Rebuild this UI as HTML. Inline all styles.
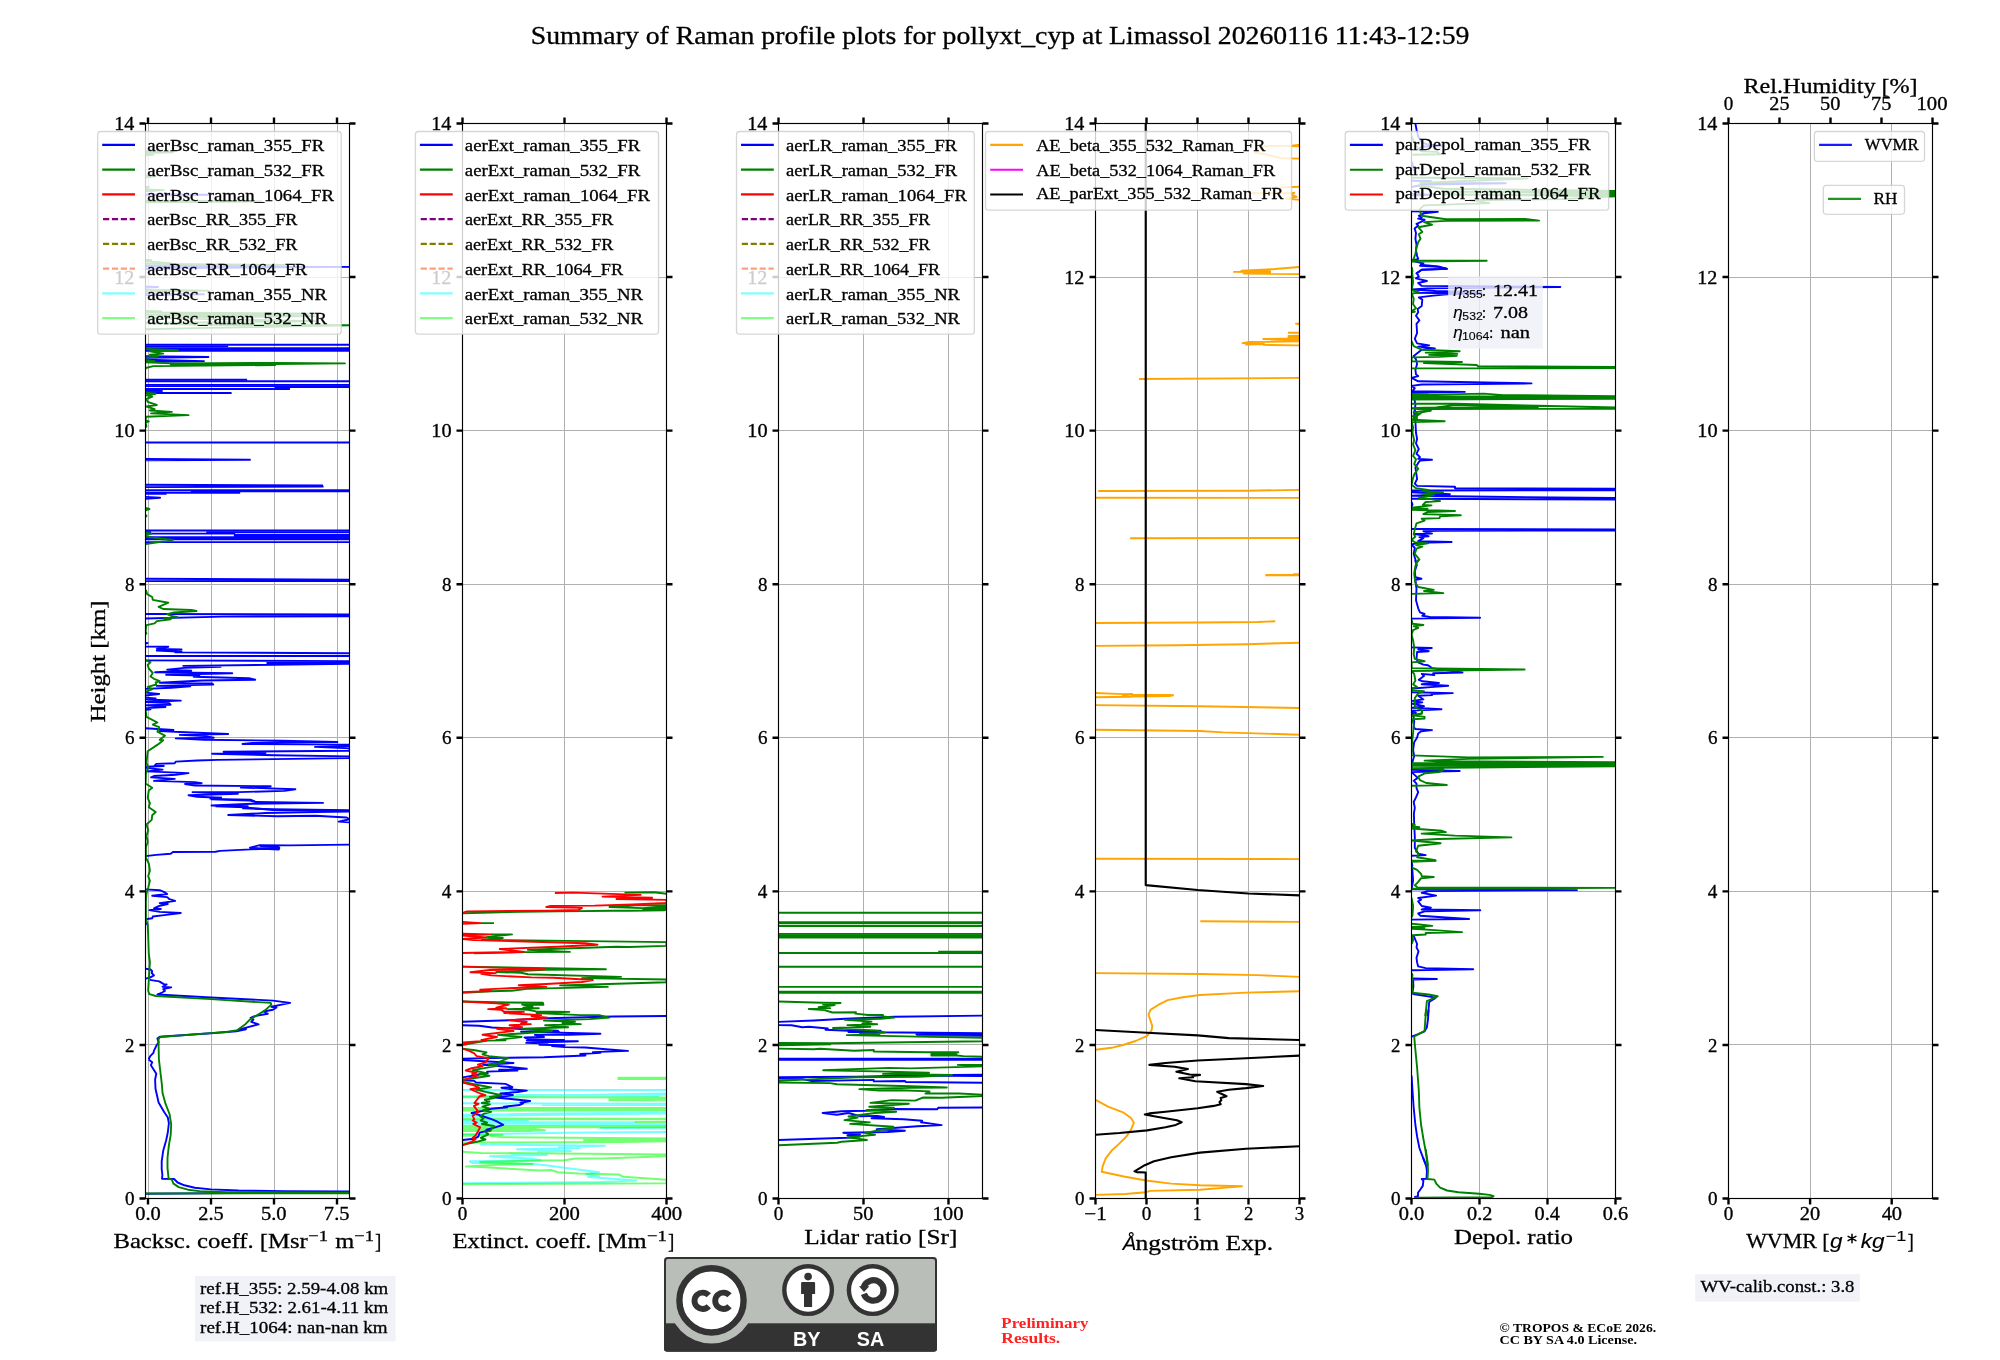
<!DOCTYPE html>
<html><head><meta charset="utf-8"><title>Raman profile summary</title>
<style>html,body{margin:0;padding:0;background:#fff}svg{display:block;will-change:transform}text{white-space:pre}</style></head><body>
<svg width="2000" height="1360" viewBox="0 0 2000 1360">
<rect x="0" y="0" width="2000" height="1360" fill="#fff"/>
<defs>
<clipPath id="c0"><rect x="145.50" y="123.50" width="204.00" height="1075.00"/></clipPath>
<clipPath id="c1"><rect x="462.50" y="123.50" width="204.00" height="1075.00"/></clipPath>
<clipPath id="c2"><rect x="778.50" y="123.50" width="204.00" height="1075.00"/></clipPath>
<clipPath id="c3"><rect x="1095.50" y="123.50" width="204.00" height="1075.00"/></clipPath>
<clipPath id="c4"><rect x="1411.50" y="123.50" width="204.00" height="1075.00"/></clipPath>
<clipPath id="c5"><rect x="1728.50" y="123.50" width="204.00" height="1075.00"/></clipPath>
</defs>
<text x="530.80" y="43.80" font-family="Liberation Serif, serif" font-size="24.44" fill="#000" stroke="#000" stroke-width="0.3" textLength="938.69" lengthAdjust="spacingAndGlyphs">Summary of Raman profile plots for pollyxt_cyp at Limassol 20260116 11:43-12:59</text>
<g id="panel1">
<path d="M148.50 123.50V1198.50M211.50 123.50V1198.50M274.50 123.50V1198.50M337.50 123.50V1198.50M145.50 1198.50H349.50M145.50 1044.50H349.50M145.50 891.50H349.50M145.50 737.50H349.50M145.50 584.50H349.50M145.50 430.50H349.50M145.50 277.50H349.50M145.50 123.50H349.50" stroke="#b0b0b0" stroke-width="1" fill="none" shape-rendering="crispEdges"/>
<g clip-path="url(#c0)">
<polyline points="145.6,151.3 172.9,152.2 145.6,153.1 153.4,154.6 145.6,155.4" fill="none" stroke="#008000" stroke-width="1.9" stroke-linejoin="round"/>
<polyline points="145.6,175.7 155.7,176.3 145.6,177.2" fill="none" stroke="#008000" stroke-width="1.9" stroke-linejoin="round"/>
<polyline points="145.6,186.9 148.8,187.3 145.6,188.0" fill="none" stroke="#008000" stroke-width="1.9" stroke-linejoin="round"/>
<polyline points="145.6,189.5 163.8,190.1 145.6,191.2" fill="none" stroke="#008000" stroke-width="1.9" stroke-linejoin="round"/>
<polyline points="145.6,194.5 208.6,194.7 145.6,195.4" fill="none" stroke="#0000ff" stroke-width="1.9" stroke-linejoin="round"/>
<polyline points="145.6,200.7 261.5,201.4 145.6,202.3" fill="none" stroke="#008000" stroke-width="1.9" stroke-linejoin="round"/>
<polyline points="145.6,259.7 151.1,260.2 145.6,261.4 169.5,263.1 145.6,263.9 284.5,264.9 145.6,265.8" fill="none" stroke="#008000" stroke-width="1.9" stroke-linejoin="round"/>
<polyline points="145.6,266.2 208.6,266.7 349.5,266.9 208.6,267.7 145.6,269.0" fill="none" stroke="#0000ff" stroke-width="1.9" stroke-linejoin="round"/>
<polyline points="145.6,286.7 158.0,287.0 145.6,287.5" fill="none" stroke="#0000ff" stroke-width="1.9" stroke-linejoin="round"/>
<polyline points="145.6,289.9 208.6,290.6 145.6,291.5" fill="none" stroke="#008000" stroke-width="1.9" stroke-linejoin="round"/>
<polyline points="145.6,293.6 204.0,294.3 145.6,295.0" fill="none" stroke="#0000ff" stroke-width="1.9" stroke-linejoin="round"/>
<polyline points="145.6,310.9 161.4,311.5 145.6,312.5 314.4,313.7 145.6,314.9 314.4,316.1 145.6,317.8 315.6,321.2 145.6,323.0 199.4,324.9 349.5,325.3 195.9,328.1 145.6,329.2" fill="none" stroke="#008000" stroke-width="1.9" stroke-linejoin="round"/>
<polyline points="145.6,344.8 349.5,344.8" fill="none" stroke="#0000ff" stroke-width="1.9" stroke-linejoin="round"/>
<polyline points="145.6,346.4 228.2,346.4" fill="none" stroke="#0000ff" stroke-width="1.9" stroke-linejoin="round"/>
<polyline points="145.6,348.3 349.5,348.3" fill="none" stroke="#0000ff" stroke-width="1.9" stroke-linejoin="round"/>
<polyline points="145.6,349.7 349.5,349.7" fill="none" stroke="#0000ff" stroke-width="1.9" stroke-linejoin="round"/>
<polyline points="145.6,350.9 349.5,350.9" fill="none" stroke="#0000ff" stroke-width="1.9" stroke-linejoin="round"/>
<polyline points="145.6,356.2 208.4,357.0 145.6,357.8" fill="none" stroke="#0000ff" stroke-width="1.9" stroke-linejoin="round"/>
<polyline points="145.6,359.7 204.0,361.1 145.6,362.0" fill="none" stroke="#0000ff" stroke-width="1.9" stroke-linejoin="round"/>
<polyline points="145.6,349.0 177.8,350.1 149.9,351.3 163.2,353.6 149.9,354.7 158.0,356.2 145.6,357.6" fill="none" stroke="#008000" stroke-width="1.9" stroke-linejoin="round"/>
<polyline points="145.6,360.1 154.6,361.3 145.6,362.2 170.7,363.4 275.3,362.9 344.9,363.4 275.3,364.0 170.7,364.3 275.3,365.0 153.4,366.1 146.5,367.7 145.6,368.5" fill="none" stroke="#008000" stroke-width="1.9" stroke-linejoin="round"/>
<polyline points="145.6,379.8 247.1,379.8" fill="none" stroke="#0000ff" stroke-width="1.9" stroke-linejoin="round"/>
<polyline points="145.6,381.3 349.5,381.3" fill="none" stroke="#0000ff" stroke-width="1.9" stroke-linejoin="round"/>
<polyline points="145.6,384.9 349.5,384.9" fill="none" stroke="#0000ff" stroke-width="1.9" stroke-linejoin="round"/>
<polyline points="145.6,386.1 349.5,386.1" fill="none" stroke="#0000ff" stroke-width="1.9" stroke-linejoin="round"/>
<polyline points="274.7,387.0 349.5,387.0" fill="none" stroke="#0000ff" stroke-width="1.9" stroke-linejoin="round"/>
<polyline points="145.6,389.0 290.0,389.0" fill="none" stroke="#0000ff" stroke-width="1.9" stroke-linejoin="round"/>
<polyline points="145.6,390.7 162.6,390.7" fill="none" stroke="#0000ff" stroke-width="1.9" stroke-linejoin="round"/>
<polyline points="145.6,392.1 162.6,392.1" fill="none" stroke="#0000ff" stroke-width="1.9" stroke-linejoin="round"/>
<polyline points="145.6,393.0 231.6,393.0" fill="none" stroke="#0000ff" stroke-width="1.9" stroke-linejoin="round"/>
<polyline points="145.6,392.7 155.7,393.8 146.5,395.3 152.2,396.7 146.5,399.0 147.7,401.9 156.8,405.0 146.5,406.5 154.6,409.1 149.9,410.5 171.8,411.9 151.1,413.4 188.5,415.1 145.9,416.8 145.6,420.3 148.8,421.4 145.6,422.6 146.5,426.4 145.6,427.2" fill="none" stroke="#008000" stroke-width="1.9" stroke-linejoin="round"/>
<polyline points="145.6,442.5 349.5,442.5" fill="none" stroke="#0000ff" stroke-width="1.9" stroke-linejoin="round"/>
<polyline points="145.6,459.0 250.0,459.7 145.6,460.4" fill="none" stroke="#0000ff" stroke-width="1.9" stroke-linejoin="round"/>
<polyline points="145.6,484.8 323.0,485.5" fill="none" stroke="#0000ff" stroke-width="1.9" stroke-linejoin="round"/>
<polyline points="323.6,486.6 145.6,487.1" fill="none" stroke="#0000ff" stroke-width="1.9" stroke-linejoin="round"/>
<polyline points="145.6,490.3 349.5,490.3" fill="none" stroke="#0000ff" stroke-width="1.9" stroke-linejoin="round"/>
<polyline points="190.8,491.4 349.5,491.4" fill="none" stroke="#0000ff" stroke-width="1.9" stroke-linejoin="round"/>
<polyline points="145.6,492.8 240.2,492.8" fill="none" stroke="#0000ff" stroke-width="1.9" stroke-linejoin="round"/>
<polyline points="145.6,493.8 166.6,493.8" fill="none" stroke="#0000ff" stroke-width="1.9" stroke-linejoin="round"/>
<polyline points="145.6,496.9 160.1,497.8 145.6,498.9" fill="none" stroke="#0000ff" stroke-width="1.9" stroke-linejoin="round"/>
<polyline points="145.6,507.9 149.4,509.0 145.6,510.4" fill="none" stroke="#008000" stroke-width="1.9" stroke-linejoin="round"/>
<polyline points="145.6,514.8 146.5,515.9 145.6,517.0" fill="none" stroke="#008000" stroke-width="1.9" stroke-linejoin="round"/>
<polyline points="145.6,530.5 349.5,530.5" fill="none" stroke="#0000ff" stroke-width="1.9" stroke-linejoin="round"/>
<polyline points="206.3,532.1 349.5,532.1" fill="none" stroke="#0000ff" stroke-width="1.9" stroke-linejoin="round"/>
<polyline points="145.6,532.1 151.1,532.1" fill="none" stroke="#0000ff" stroke-width="1.9" stroke-linejoin="round"/>
<polyline points="145.6,533.6 235.1,533.6" fill="none" stroke="#0000ff" stroke-width="1.9" stroke-linejoin="round"/>
<polyline points="233.9,534.8 349.5,534.8" fill="none" stroke="#0000ff" stroke-width="1.9" stroke-linejoin="round"/>
<polyline points="233.9,536.0 349.5,536.0" fill="none" stroke="#0000ff" stroke-width="1.9" stroke-linejoin="round"/>
<polyline points="145.6,537.3 349.5,537.3" fill="none" stroke="#0000ff" stroke-width="1.9" stroke-linejoin="round"/>
<polyline points="145.6,538.6 349.5,538.6" fill="none" stroke="#0000ff" stroke-width="1.9" stroke-linejoin="round"/>
<polyline points="145.6,539.4 349.5,539.4" fill="none" stroke="#0000ff" stroke-width="1.9" stroke-linejoin="round"/>
<polyline points="145.6,542.1 349.5,542.1" fill="none" stroke="#0000ff" stroke-width="1.9" stroke-linejoin="round"/>
<polyline points="145.6,532.6 151.1,533.7 146.5,535.2 145.6,536.6 172.9,540.0 145.6,544.1" fill="none" stroke="#008000" stroke-width="1.9" stroke-linejoin="round"/>
<polyline points="145.6,578.7 349.5,579.7" fill="none" stroke="#0000ff" stroke-width="1.9" stroke-linejoin="round"/>
<polyline points="145.6,581.1 349.5,581.0" fill="none" stroke="#0000ff" stroke-width="1.9" stroke-linejoin="round"/>
<polyline points="145.6,614.0 349.5,614.5 349.5,616.2 222.4,616.6 145.6,618.5" fill="none" stroke="#0000ff" stroke-width="1.9" stroke-linejoin="round"/>
<polyline points="145.9,590.1 147.1,594.1 152.2,597.0 152.8,599.9 168.3,602.7 158.6,606.8 163.2,609.0 191.3,610.0 196.5,611.0 174.1,612.5 167.2,614.2 171.2,616.0 177.6,617.1 163.8,618.5 170.7,619.4 156.8,621.1 154.6,623.4 146.5,625.1 145.9,627.5 145.6,632.0 146.5,633.2 145.6,634.4" fill="none" stroke="#008000" stroke-width="1.9" stroke-linejoin="round"/>
<polyline points="145.6,642.6 147.7,643.1 145.6,643.7" fill="none" stroke="#0000ff" stroke-width="1.9" stroke-linejoin="round"/>
<polyline points="145.6,646.6 168.3,646.8 156.8,648.9 181.6,649.5 156.8,650.6 181.6,651.8 175.2,652.4 349.5,653.2" fill="none" stroke="#0000ff" stroke-width="1.9" stroke-linejoin="round"/>
<polyline points="145.6,656.0 349.5,656.0" fill="none" stroke="#0000ff" stroke-width="1.9" stroke-linejoin="round"/>
<polyline points="145.6,660.4 349.5,661.1 349.5,662.2 267.2,663.0 349.5,663.9 183.3,665.9 220.7,666.7 184.4,667.9 167.2,669.6 191.3,670.8 155.1,672.2 232.2,673.3 166.1,674.8 199.4,675.6 193.7,676.7 248.9,678.2 255.2,679.7 202.3,680.5 159.7,682.8 212.1,683.4 213.2,684.5 156.8,685.9 190.2,686.3 171.2,687.8 145.6,688.9" fill="none" stroke="#0000ff" stroke-width="1.9" stroke-linejoin="round"/>
<polyline points="145.6,692.6 159.2,694.0 145.6,695.5" fill="none" stroke="#0000ff" stroke-width="1.9" stroke-linejoin="round"/>
<polyline points="145.6,697.8 155.7,698.4 146.5,699.5 180.8,700.6 146.5,702.0 168.9,703.0 170.7,704.7 146.5,705.2 165.5,707.0 146.5,708.1 150.5,709.3 145.6,709.9" fill="none" stroke="#0000ff" stroke-width="1.9" stroke-linejoin="round"/>
<polyline points="145.6,728.2 173.5,730.0 159.7,731.1 185.6,732.3 228.2,734.0 179.8,734.9 205.2,736.1 213.8,737.7 175.8,738.4 204.0,739.8 282.2,740.7 337.4,742.0 252.3,743.0 242.5,744.0 349.5,744.6 349.5,746.1 315.0,746.9 349.5,748.4 349.5,750.7 223.6,751.8 265.5,753.0 212.1,753.8 275.3,755.3 349.5,756.4 349.5,758.1 217.8,759.9 197.1,760.5 175.8,761.6 174.7,763.3 156.3,763.9 154.6,765.6 163.8,766.0 146.5,766.8 145.6,767.9 162.6,769.6 146.5,771.4 188.5,773.1 175.8,774.8 154.0,776.0 151.1,777.4 174.7,778.9 154.0,780.9 194.8,782.1 201.7,783.2 185.0,784.0 194.8,785.5 270.7,786.3 240.8,787.5 295.4,789.2 284.5,790.9 238.5,792.1 192.5,792.1 237.9,793.8 188.5,795.2 197.1,796.7 221.8,797.8" fill="none" stroke="#0000ff" stroke-width="1.9" stroke-linejoin="round"/>
<polyline points="145.6,660.4 150.5,662.1 147.7,665.0 148.8,668.5 152.8,673.0 150.5,676.5 154.0,678.8 159.7,681.1 155.7,682.5 156.3,684.5 147.7,686.9 152.2,689.1 146.5,691.5 145.6,692.6" fill="none" stroke="#008000" stroke-width="1.9" stroke-linejoin="round"/>
<polyline points="145.6,709.9 146.5,716.8 157.4,722.5 152.8,724.6 159.2,727.1 157.4,731.7 164.9,735.7 159.7,739.8 163.2,740.3 158.0,744.4 147.7,751.2 147.1,757.0 146.5,762.8 148.2,767.4 145.9,773.1 145.6,783.5 152.2,787.8 148.8,790.4 147.7,798.1" fill="none" stroke="#008000" stroke-width="1.9" stroke-linejoin="round"/>
<polyline points="221.8,797.8 210.3,798.6 223.6,799.1 250.6,799.7 255.8,802.0 323.0,802.9 252.3,803.8 211.5,805.5 247.7,806.3 243.1,808.4 273.0,809.3 349.5,810.1 349.5,811.6 315.0,812.0 266.1,813.0 228.2,815.0 277.6,816.2 315.6,815.8 346.6,817.5 349.5,819.3 338.6,821.6 349.5,822.4" fill="none" stroke="#0000ff" stroke-width="1.9" stroke-linejoin="round"/>
<polyline points="349.5,844.6 290.2,845.4 259.8,845.1 250.0,847.7 258.1,848.6 278.8,849.5 279.3,848.0 220.1,850.9 215.5,851.8 172.9,852.0 170.7,853.8 156.3,854.9 145.6,856.1" fill="none" stroke="#0000ff" stroke-width="1.9" stroke-linejoin="round"/>
<polyline points="145.6,889.4 159.7,890.2 164.3,892.1 167.2,894.0 152.2,895.8 167.2,897.1 169.5,899.2 175.2,900.9 159.7,903.2 167.8,904.0 158.6,906.1 154.0,908.4 160.9,909.0 149.4,910.1 159.7,911.9 180.8,913.0 164.3,915.1 152.8,916.5 152.2,918.2 145.6,919.3" fill="none" stroke="#0000ff" stroke-width="1.9" stroke-linejoin="round"/>
<polyline points="145.6,922.8 146.5,923.9 145.6,924.5" fill="none" stroke="#0000ff" stroke-width="1.9" stroke-linejoin="round"/>
<polyline points="147.7,797.8 149.9,803.2 148.8,807.2 155.7,812.0 152.2,815.2 151.7,819.9 146.5,824.5 148.2,830.2 146.5,836.0 147.7,841.7 145.9,847.5 145.9,857.8 148.8,863.5 149.9,870.5 148.2,876.2 149.9,880.8 148.2,887.7 146.5,893.5 145.9,901.5 145.9,918.8 147.7,924.5 148.2,936.0 148.8,954.1" fill="none" stroke="#008000" stroke-width="1.9" stroke-linejoin="round"/>
<polyline points="145.6,968.7 150.5,969.5 152.2,971.2 151.7,973.0 154.0,975.3 149.9,977.6 145.6,978.7" fill="none" stroke="#0000ff" stroke-width="1.9" stroke-linejoin="round"/>
<polyline points="149.9,979.9 159.2,981.4 163.8,984.1 166.6,984.5 162.6,986.8 171.2,987.4 163.2,989.1 164.9,991.0 162.0,992.5 157.4,994.5 210.9,997.5 273.0,1000.6 290.2,1002.9 282.8,1004.4 271.3,1006.7 276.5,1007.5 273.0,1009.8 263.8,1011.5 267.8,1013.8 254.6,1016.1 250.6,1017.8 253.4,1019.5 251.2,1021.9 258.6,1024.4 239.7,1029.3 246.0,1029.3 236.2,1031.3 210.9,1033.3 159.7,1036.8 157.4,1038.5 158.6,1042.5 156.8,1044.8 154.0,1050.6 153.4,1052.9 150.5,1055.8 148.6,1059.2" fill="none" stroke="#0000ff" stroke-width="1.9" stroke-linejoin="round"/>
<polyline points="148.8,954.0 149.9,962.0 149.0,977.0 148.2,990.8 149.4,994.2 155.7,996.0 210.9,999.1 270.7,1002.9 271.3,1004.6 265.0,1010.4 250.0,1019.5 245.4,1024.2 237.4,1030.1 227.0,1032.0 210.9,1033.1 160.3,1037.0 158.6,1039.1 158.6,1046.0 158.9,1059.8" fill="none" stroke="#008000" stroke-width="1.9" stroke-linejoin="round"/>
<polyline points="148.6,1059.4 152.2,1062.3 150.9,1065.2 156.3,1073.8 155.1,1079.5 155.5,1088.8 158.6,1102.5 164.3,1112.3 167.8,1117.5 168.9,1123.2 167.8,1132.5 166.1,1140.5 163.2,1150.8 161.7,1161.2 161.7,1169.2 162.4,1175.0 162.0,1178.7 174.1,1179.0 177.6,1182.5 184.4,1185.3 194.8,1187.7 210.9,1189.4 238.5,1190.5 284.5,1191.1 349.5,1191.4 349.5,1192.2 145.6,1193.7" fill="none" stroke="#0000ff" stroke-width="1.9" stroke-linejoin="round"/>
<polyline points="158.9,1059.4 161.7,1083.0 162.6,1093.3 165.5,1103.7 169.5,1114.0 171.2,1124.4 170.7,1134.8 168.9,1145.1 167.5,1157.8 167.5,1168.1 168.6,1178.5 171.8,1179.6 173.5,1183.6 178.7,1187.1 187.9,1189.7 199.4,1191.1 227.0,1192.2 349.5,1192.6 349.5,1193.3 145.6,1193.5" fill="none" stroke="#008000" stroke-width="1.9" stroke-linejoin="round"/>
<polyline points="210.9,799.4 250.0,800.5 255.8,802.0" fill="none" stroke="#0000ff" stroke-width="1.9" stroke-linejoin="round"/>
<polyline points="215.5,806.3 245.4,807.4 273.0,810.0 349.5,810.9" fill="none" stroke="#0000ff" stroke-width="1.9" stroke-linejoin="round"/>
<polyline points="259.8,846.1 278.8,846.9 278.8,848.6 253.4,848.1" fill="none" stroke="#0000ff" stroke-width="1.9" stroke-linejoin="round"/>
</g>
<rect x="145.50" y="123.50" width="204.00" height="1075.00" fill="none" stroke="#000" stroke-width="1.15"/>
<path d="M148.00 1198.50v6.00M148.00 123.50v-6.00M211.00 1198.50v6.00M211.00 123.50v-6.00M274.00 1198.50v6.00M274.00 123.50v-6.00M337.00 1198.50v6.00M337.00 123.50v-6.00M145.50 1198.50h-6.00M349.50 1198.50h6.00M145.50 1044.93h-6.00M349.50 1044.93h6.00M145.50 891.36h-6.00M349.50 891.36h6.00M145.50 737.79h-6.00M349.50 737.79h6.00M145.50 584.21h-6.00M349.50 584.21h6.00M145.50 430.64h-6.00M349.50 430.64h6.00M145.50 277.07h-6.00M349.50 277.07h6.00M145.50 123.50h-6.00M349.50 123.50h6.00" stroke="#000" stroke-width="2.4" fill="none"/>
<text x="135.22" y="1219.80" font-family="Liberation Serif, serif" font-size="18.34" fill="#000" stroke="#000" stroke-width="0.3" textLength="25.56" lengthAdjust="spacingAndGlyphs">0.0</text>
<text x="198.21" y="1219.80" font-family="Liberation Serif, serif" font-size="18.34" fill="#000" stroke="#000" stroke-width="0.3" textLength="25.49" lengthAdjust="spacingAndGlyphs">2.5</text>
<text x="260.96" y="1219.80" font-family="Liberation Serif, serif" font-size="18.34" fill="#000" stroke="#000" stroke-width="0.3" textLength="25.66" lengthAdjust="spacingAndGlyphs">5.0</text>
<text x="323.88" y="1219.80" font-family="Liberation Serif, serif" font-size="18.34" fill="#000" stroke="#000" stroke-width="0.3" textLength="25.68" lengthAdjust="spacingAndGlyphs">7.5</text>
<text x="125.01" y="1205.10" font-family="Liberation Serif, serif" font-size="18.34" fill="#000" stroke="#000" stroke-width="0.3" textLength="9.56" lengthAdjust="spacingAndGlyphs">0</text>
<text x="124.95" y="1051.53" font-family="Liberation Serif, serif" font-size="18.34" fill="#000" stroke="#000" stroke-width="0.3" textLength="9.40" lengthAdjust="spacingAndGlyphs">2</text>
<text x="124.78" y="897.96" font-family="Liberation Serif, serif" font-size="18.34" fill="#000" stroke="#000" stroke-width="0.3" textLength="9.63" lengthAdjust="spacingAndGlyphs">4</text>
<text x="124.94" y="744.39" font-family="Liberation Serif, serif" font-size="18.34" fill="#000" stroke="#000" stroke-width="0.3" textLength="9.53" lengthAdjust="spacingAndGlyphs">6</text>
<text x="125.03" y="590.81" font-family="Liberation Serif, serif" font-size="18.34" fill="#000" stroke="#000" stroke-width="0.3" textLength="9.52" lengthAdjust="spacingAndGlyphs">8</text>
<text x="114.29" y="437.24" font-family="Liberation Serif, serif" font-size="18.34" fill="#000" stroke="#000" stroke-width="0.3" textLength="20.33" lengthAdjust="spacingAndGlyphs">10</text>
<text x="114.30" y="283.67" font-family="Liberation Serif, serif" font-size="18.34" fill="#000" stroke="#000" stroke-width="0.3" textLength="20.12" lengthAdjust="spacingAndGlyphs">12</text>
<text x="114.30" y="130.10" font-family="Liberation Serif, serif" font-size="18.34" fill="#000" stroke="#000" stroke-width="0.3" textLength="20.12" lengthAdjust="spacingAndGlyphs">14</text>
</g>
<g id="panel2">
<path d="M564.50 123.50V1198.50M462.50 1198.50H666.50M462.50 1044.50H666.50M462.50 891.50H666.50M462.50 737.50H666.50M462.50 584.50H666.50M462.50 430.50H666.50M462.50 277.50H666.50M462.50 123.50H666.50" stroke="#b0b0b0" stroke-width="1" fill="none" shape-rendering="crispEdges"/>
<g clip-path="url(#c1)">
<polyline points="462.6,1090.0 666.5,1090.0" fill="none" stroke="#00ffff" stroke-width="2" stroke-linejoin="round" stroke-opacity="0.55"/>
<polyline points="462.6,1096.3 516.4,1096.1 666.5,1093.5 666.5,1094.7 516.4,1095.0 659.0,1095.9" fill="none" stroke="#00ffff" stroke-width="2" stroke-linejoin="round" stroke-opacity="0.55"/>
<polyline points="462.6,1103.2 541.7,1103.5 666.5,1103.8 666.5,1105.1 541.7,1105.1" fill="none" stroke="#00ffff" stroke-width="2" stroke-linejoin="round" stroke-opacity="0.55"/>
<polyline points="462.6,1114.8 550.9,1113.6 666.5,1112.7 666.5,1113.6 616.5,1114.1 462.6,1116.1" fill="none" stroke="#00ffff" stroke-width="2" stroke-linejoin="round" stroke-opacity="0.55"/>
<polyline points="462.6,1120.5 527.9,1121.1 462.6,1121.9 527.9,1122.3 634.9,1122.3 527.9,1123.0 462.6,1123.7 666.5,1124.2" fill="none" stroke="#00ffff" stroke-width="2" stroke-linejoin="round" stroke-opacity="0.55"/>
<polyline points="666.5,1127.6 600.4,1128.1 666.5,1128.5" fill="none" stroke="#00ffff" stroke-width="2" stroke-linejoin="round" stroke-opacity="0.55"/>
<polyline points="666.5,1132.0 564.7,1132.7 489.9,1134.1 462.6,1134.5" fill="none" stroke="#00ffff" stroke-width="2" stroke-linejoin="round" stroke-opacity="0.55"/>
<polyline points="479.6,1144.4 525.6,1145.1 605.0,1145.8 559.0,1147.2 579.6,1148.1 517.0,1149.2 571.0,1151.0 537.1,1151.5" fill="none" stroke="#00ffff" stroke-width="2" stroke-linejoin="round" stroke-opacity="0.55"/>
<polyline points="510.6,1154.8 546.9,1155.0 489.9,1156.2 504.9,1157.5 531.4,1158.5 540.5,1160.2 469.8,1161.3 472.1,1163.0 480.2,1162.8 532.5,1164.0 544.0,1164.9 565.9,1167.9 586.0,1170.5 599.2,1172.2 586.0,1174.0 599.2,1176.3 588.3,1177.1 636.6,1180.5 601.5,1182.1 462.6,1183.2" fill="none" stroke="#00ffff" stroke-width="2" stroke-linejoin="round" stroke-opacity="0.55"/>
<polyline points="617.6,1077.7 666.5,1077.7 666.5,1079.1 617.6,1078.9" fill="none" stroke="#00ff00" stroke-width="2" stroke-linejoin="round" stroke-opacity="0.55"/>
<polyline points="462.6,1097.3 666.5,1097.5 609.5,1098.9 666.5,1099.3 609.5,1100.0 666.5,1100.6" fill="none" stroke="#00ff00" stroke-width="2" stroke-linejoin="round" stroke-opacity="0.55"/>
<polyline points="462.6,1108.1 666.5,1108.1 666.5,1109.2 462.6,1109.2 462.6,1110.4 666.5,1110.4" fill="none" stroke="#00ff00" stroke-width="2" stroke-linejoin="round" stroke-opacity="0.55"/>
<polyline points="462.6,1118.4 666.5,1118.7 666.5,1119.3 462.6,1119.3" fill="none" stroke="#00ff00" stroke-width="2" stroke-linejoin="round" stroke-opacity="0.55"/>
<polyline points="634.9,1121.9 666.5,1121.9" fill="none" stroke="#00ff00" stroke-width="2" stroke-linejoin="round" stroke-opacity="0.55"/>
<polyline points="462.6,1126.0 666.5,1126.0 666.5,1127.2 462.6,1127.2 462.6,1128.3 527.9,1128.3 545.1,1130.6 462.6,1129.9 462.6,1131.1 532.5,1131.1" fill="none" stroke="#00ff00" stroke-width="2" stroke-linejoin="round" stroke-opacity="0.55"/>
<polyline points="462.6,1134.5 502.6,1135.0 462.6,1135.7" fill="none" stroke="#00ff00" stroke-width="2" stroke-linejoin="round" stroke-opacity="0.55"/>
<polyline points="489.9,1135.7 502.6,1137.2 666.5,1138.4 584.2,1139.4 666.5,1139.8 584.2,1140.7 666.5,1141.2 618.8,1142.1 462.6,1142.6" fill="none" stroke="#00ff00" stroke-width="2" stroke-linejoin="round" stroke-opacity="0.55"/>
<polyline points="462.6,1151.8 480.8,1152.9 666.5,1154.4 666.5,1156.2 602.6,1158.5 575.6,1158.5 564.7,1160.2 540.5,1160.5 480.2,1162.1 532.5,1164.0 498.0,1164.8 465.8,1166.5 480.8,1167.1 540.5,1170.5 550.9,1170.0 557.8,1172.2 578.5,1173.4 618.8,1174.5 623.4,1176.8 666.5,1179.7 666.5,1183.2 462.6,1184.3" fill="none" stroke="#00ff00" stroke-width="2" stroke-linejoin="round" stroke-opacity="0.55"/>
<polyline points="666.5,1016.0 613.0,1016.5 547.5,1018.3 509.5,1020.3 462.6,1021.8" fill="none" stroke="#0000ff" stroke-width="1.9" stroke-linejoin="round"/>
<polyline points="462.6,1025.2 479.0,1025.7 492.2,1027.5 521.0,1029.1 557.8,1030.6 559.0,1031.8 521.0,1031.8 600.4,1033.7 569.3,1034.9 534.8,1034.9 544.0,1037.0 524.5,1037.5 527.9,1039.2 564.7,1040.1" fill="none" stroke="#0000ff" stroke-width="1.9" stroke-linejoin="round"/>
<polyline points="564.7,1040.0 526.8,1040.6 577.9,1041.2 526.2,1042.9 547.5,1043.5 539.4,1044.8 564.7,1045.2 552.0,1046.0 564.7,1047.1 585.4,1047.5 606.1,1049.2 628.0,1050.9 592.9,1052.1 600.4,1052.9 580.2,1054.0 585.4,1055.5 544.0,1057.2 508.4,1057.8 462.6,1058.6 462.6,1060.1 484.2,1061.3 513.5,1063.0 483.1,1064.7 509.5,1067.0 526.8,1068.8 499.1,1069.7 517.5,1070.5 487.1,1071.6 487.6,1073.3 462.6,1077.4 462.6,1080.2 473.9,1080.8 476.1,1082.5 505.5,1083.9 512.4,1087.2 501.4,1087.7 513.0,1089.5 526.8,1090.6 517.5,1092.0 500.3,1093.5 513.0,1095.0 495.1,1097.5 508.4,1098.7 530.2,1101.0 520.4,1102.7 523.3,1103.5 519.9,1105.0 503.8,1106.7 507.2,1107.3 491.1,1108.8 480.8,1111.3 471.6,1113.0 480.8,1115.3 483.6,1116.5 492.2,1119.3 496.3,1121.1 503.2,1124.9 495.1,1127.4 486.5,1129.7 489.9,1130.3 479.6,1132.6 478.4,1136.6 474.4,1138.7 462.6,1140.0" fill="none" stroke="#0000ff" stroke-width="1.9" stroke-linejoin="round"/>
<polyline points="624.5,892.6 653.8,892.3 666.5,893.8" fill="none" stroke="#008000" stroke-width="1.9" stroke-linejoin="round"/>
<polyline points="666.5,905.3 634.9,905.3 609.5,907.0 642.9,908.1 666.5,906.5 666.5,907.7 642.9,908.8 666.5,909.1 664.8,910.2 629.1,910.7 613.0,910.7 559.0,911.4 521.0,911.8 462.6,913.3" fill="none" stroke="#008000" stroke-width="1.9" stroke-linejoin="round"/>
<polyline points="480.8,923.1 494.0,923.1" fill="none" stroke="#008000" stroke-width="1.9" stroke-linejoin="round"/>
<polyline points="491.1,934.4 512.0,934.4 486.5,937.1 502.8,938.0 481.9,939.8 666.5,942.1 666.5,945.9 629.1,947.0 616.5,946.7 527.9,949.8 569.9,951.9 524.5,952.1 473.9,953.3" fill="none" stroke="#008000" stroke-width="1.9" stroke-linejoin="round"/>
<polyline points="462.6,966.6 521.0,967.7 605.9,969.3 545.1,969.7 496.3,972.0 521.0,972.8 527.9,974.3 621.0,976.9 582.0,978.1 666.5,979.5 666.5,982.3 608.4,984.0 560.1,985.4 607.8,986.9 526.8,988.9 511.8,990.7 491.1,991.2 462.6,992.7" fill="none" stroke="#008000" stroke-width="1.9" stroke-linejoin="round"/>
<polyline points="462.6,1001.5 508.4,1002.5 542.9,1002.7 543.4,1004.8 522.1,1004.5 532.5,1006.5 523.3,1007.6 538.8,1008.2 507.2,1009.1 527.9,1009.9 536.0,1011.4 569.3,1011.9 536.5,1013.0 580.2,1015.1 599.2,1015.1 609.5,1017.6 589.4,1019.1 544.0,1020.6 575.0,1021.8 562.4,1023.1 580.8,1024.1 545.1,1025.2 568.1,1027.2 522.7,1028.7 552.0,1031.0 521.0,1033.5 498.0,1034.9 521.6,1037.0 495.7,1040.1" fill="none" stroke="#008000" stroke-width="1.9" stroke-linejoin="round"/>
<polyline points="495.7,1040.0 505.5,1040.2 487.6,1040.6 466.9,1044.0 462.6,1044.6" fill="none" stroke="#008000" stroke-width="1.9" stroke-linejoin="round"/>
<polyline points="462.6,1048.6 475.0,1050.3 486.5,1052.4 482.5,1054.4 488.8,1056.1 508.4,1058.2 500.3,1061.3 504.9,1062.4 488.8,1064.7 497.4,1065.9 472.7,1070.1 486.5,1073.3 479.0,1073.9 489.4,1075.7 483.1,1076.8 463.5,1079.7 462.6,1082.0 476.7,1084.8 491.1,1087.4 476.1,1089.5 487.6,1092.3 501.4,1095.2 489.9,1096.9 494.0,1098.1 484.8,1099.8 489.4,1101.5 481.9,1103.0 489.9,1104.4 482.5,1106.7 488.8,1108.4 483.1,1110.2 491.1,1111.9 484.2,1113.6 480.2,1116.5 483.6,1118.2 480.8,1120.5 487.1,1122.6 481.9,1124.0 494.0,1126.0 490.5,1130.8 485.4,1132.0 488.2,1134.3 480.8,1137.8 485.4,1139.5 476.7,1141.8 462.6,1144.9" fill="none" stroke="#008000" stroke-width="1.9" stroke-linejoin="round"/>
<polyline points="554.9,893.0 572.8,892.6 640.6,894.9 602.6,896.6 652.1,897.8 616.5,899.0 666.5,899.9 666.5,903.0 632.5,904.5 594.6,905.6 550.9,905.9 546.3,907.0 582.0,907.9 578.5,909.9 548.6,910.7 466.9,911.4 462.6,912.8" fill="none" stroke="#ff0000" stroke-width="1.9" stroke-linejoin="round"/>
<polyline points="462.6,922.0 480.8,923.1 462.6,923.7" fill="none" stroke="#ff0000" stroke-width="1.9" stroke-linejoin="round"/>
<polyline points="462.6,933.7 491.1,934.4 462.6,935.5 485.9,937.5 462.6,939.0 473.9,940.1 585.4,943.2 597.5,944.7 557.8,946.7 550.3,947.0 499.7,949.0 523.9,951.9 473.3,952.8 462.6,953.0" fill="none" stroke="#ff0000" stroke-width="1.9" stroke-linejoin="round"/>
<polyline points="462.6,966.6 521.0,968.5 545.1,969.3 489.9,970.0 470.4,972.3 495.7,973.1 481.3,973.9 491.1,975.4 531.4,977.4 553.8,977.7 592.9,980.0 582.0,982.0 546.3,984.0 518.7,985.2 546.3,986.9 500.3,988.6 480.2,989.6 491.1,991.0 462.6,992.1" fill="none" stroke="#ff0000" stroke-width="1.9" stroke-linejoin="round"/>
<polyline points="462.6,1001.5 496.3,1003.4 508.9,1004.5 496.3,1007.6 506.1,1008.2 488.2,1009.1 501.4,1009.9 503.8,1011.6 523.9,1011.9 504.3,1013.0 541.1,1015.1 531.4,1016.0 547.5,1017.6 509.5,1020.3 526.8,1022.0 521.0,1023.7 530.8,1024.1 509.5,1025.2 522.1,1027.2 496.9,1028.7 513.5,1031.0 482.5,1034.7 496.9,1037.0 480.8,1040.1" fill="none" stroke="#ff0000" stroke-width="1.9" stroke-linejoin="round"/>
<polyline points="480.8,1040.0 486.5,1040.6 463.5,1042.5 466.9,1044.4 462.6,1044.8" fill="none" stroke="#ff0000" stroke-width="1.9" stroke-linejoin="round"/>
<polyline points="462.6,1048.6 469.2,1050.9 473.9,1053.2 476.7,1056.1 488.8,1058.2 485.4,1062.4 477.9,1064.7 482.5,1066.2 471.6,1068.2 465.8,1070.5 476.7,1072.8 472.1,1073.9 477.9,1075.7 462.6,1080.2 462.6,1082.5 473.9,1085.4 479.0,1087.7 470.4,1089.2 480.2,1093.5 485.4,1095.2 479.6,1096.3 474.4,1103.0 478.4,1103.8 473.9,1106.1 478.4,1111.9 472.7,1115.9 474.4,1119.3 472.7,1120.5 476.7,1122.6 473.3,1124.0 480.2,1127.4 475.6,1135.5 472.7,1137.8 475.6,1139.1 471.6,1141.8 462.6,1145.2" fill="none" stroke="#ff0000" stroke-width="1.9" stroke-linejoin="round"/>
</g>
<rect x="462.50" y="123.50" width="204.00" height="1075.00" fill="none" stroke="#000" stroke-width="1.15"/>
<path d="M462.50 1198.50v6.00M462.50 123.50v-6.00M564.50 1198.50v6.00M564.50 123.50v-6.00M666.50 1198.50v6.00M666.50 123.50v-6.00M462.50 1198.50h-6.00M666.50 1198.50h6.00M462.50 1044.93h-6.00M666.50 1044.93h6.00M462.50 891.36h-6.00M666.50 891.36h6.00M462.50 737.79h-6.00M666.50 737.79h6.00M462.50 584.21h-6.00M666.50 584.21h6.00M462.50 430.64h-6.00M666.50 430.64h6.00M462.50 277.07h-6.00M666.50 277.07h6.00M462.50 123.50h-6.00M666.50 123.50h6.00" stroke="#000" stroke-width="2.4" fill="none"/>
<text x="457.72" y="1219.80" font-family="Liberation Serif, serif" font-size="18.34" fill="#000" stroke="#000" stroke-width="0.3" textLength="9.56" lengthAdjust="spacingAndGlyphs">0</text>
<text x="548.95" y="1219.80" font-family="Liberation Serif, serif" font-size="18.34" fill="#000" stroke="#000" stroke-width="0.3" textLength="30.97" lengthAdjust="spacingAndGlyphs">200</text>
<text x="651.15" y="1219.80" font-family="Liberation Serif, serif" font-size="18.34" fill="#000" stroke="#000" stroke-width="0.3" textLength="31.09" lengthAdjust="spacingAndGlyphs">400</text>
<text x="442.01" y="1205.10" font-family="Liberation Serif, serif" font-size="18.34" fill="#000" stroke="#000" stroke-width="0.3" textLength="9.56" lengthAdjust="spacingAndGlyphs">0</text>
<text x="441.95" y="1051.53" font-family="Liberation Serif, serif" font-size="18.34" fill="#000" stroke="#000" stroke-width="0.3" textLength="9.40" lengthAdjust="spacingAndGlyphs">2</text>
<text x="441.78" y="897.96" font-family="Liberation Serif, serif" font-size="18.34" fill="#000" stroke="#000" stroke-width="0.3" textLength="9.63" lengthAdjust="spacingAndGlyphs">4</text>
<text x="441.94" y="744.39" font-family="Liberation Serif, serif" font-size="18.34" fill="#000" stroke="#000" stroke-width="0.3" textLength="9.53" lengthAdjust="spacingAndGlyphs">6</text>
<text x="442.03" y="590.81" font-family="Liberation Serif, serif" font-size="18.34" fill="#000" stroke="#000" stroke-width="0.3" textLength="9.52" lengthAdjust="spacingAndGlyphs">8</text>
<text x="431.29" y="437.24" font-family="Liberation Serif, serif" font-size="18.34" fill="#000" stroke="#000" stroke-width="0.3" textLength="20.33" lengthAdjust="spacingAndGlyphs">10</text>
<text x="431.30" y="283.67" font-family="Liberation Serif, serif" font-size="18.34" fill="#000" stroke="#000" stroke-width="0.3" textLength="20.12" lengthAdjust="spacingAndGlyphs">12</text>
<text x="431.30" y="130.10" font-family="Liberation Serif, serif" font-size="18.34" fill="#000" stroke="#000" stroke-width="0.3" textLength="20.12" lengthAdjust="spacingAndGlyphs">14</text>
</g>
<g id="panel3">
<path d="M863.50 123.50V1198.50M948.50 123.50V1198.50M778.50 1198.50H982.50M778.50 1044.50H982.50M778.50 891.50H982.50M778.50 737.50H982.50M778.50 584.50H982.50M778.50 430.50H982.50M778.50 277.50H982.50M778.50 123.50H982.50" stroke="#b0b0b0" stroke-width="1" fill="none" shape-rendering="crispEdges"/>
<g clip-path="url(#c2)">
<polyline points="982.5,1015.6 894.5,1016.8 845.0,1018.8 814.0,1020.5 778.6,1021.9" fill="none" stroke="#0000ff" stroke-width="1.9" stroke-linejoin="round"/>
<polyline points="778.6,1025.1 791.6,1025.3 802.5,1027.2 808.8,1026.8 827.8,1028.5 825.5,1029.7 848.5,1030.8 880.7,1030.8 848.5,1032.0 982.5,1033.2 916.4,1034.3 982.5,1034.5 982.5,1035.7 916.4,1035.2" fill="none" stroke="#0000ff" stroke-width="1.9" stroke-linejoin="round"/>
<polyline points="778.6,1058.7 982.5,1058.7 982.5,1059.9 778.6,1059.9" fill="none" stroke="#0000ff" stroke-width="1.9" stroke-linejoin="round"/>
<polyline points="982.5,1074.8 952.0,1075.0 982.5,1076.0 899.1,1075.6 856.5,1076.8 778.6,1077.3 778.6,1078.5 802.5,1079.1 811.7,1081.0 873.8,1079.9 873.8,1081.4 904.9,1081.0 906.0,1082.0 982.5,1082.8" fill="none" stroke="#0000ff" stroke-width="1.9" stroke-linejoin="round"/>
<polyline points="982.5,1107.5 938.2,1107.8 937.0,1109.3 894.5,1109.0 865.8,1110.7 841.6,1111.3 822.6,1113.0 837.0,1114.7 848.5,1113.0 860.0,1116.2 877.2,1115.9 884.1,1117.0 871.5,1118.2 903.7,1119.3 922.1,1120.8 921.0,1122.2 941.6,1125.1 917.5,1126.2 893.4,1128.0 876.7,1129.3 904.9,1130.8 887.6,1132.0 843.3,1132.8 860.0,1134.8 847.4,1135.4 860.0,1136.6 847.4,1137.7 778.6,1140.0" fill="none" stroke="#0000ff" stroke-width="1.9" stroke-linejoin="round"/>
<polyline points="778.6,912.7 982.5,912.7" fill="none" stroke="#008000" stroke-width="1.9" stroke-linejoin="round"/>
<polyline points="778.6,922.1 982.5,922.1" fill="none" stroke="#008000" stroke-width="1.9" stroke-linejoin="round"/>
<polyline points="778.6,923.4 982.5,923.4" fill="none" stroke="#008000" stroke-width="1.9" stroke-linejoin="round"/>
<polyline points="778.6,926.0 982.5,926.0" fill="none" stroke="#008000" stroke-width="1.9" stroke-linejoin="round"/>
<polyline points="778.6,933.9 982.5,933.9" fill="none" stroke="#008000" stroke-width="1.9" stroke-linejoin="round"/>
<polyline points="778.6,935.2 982.5,935.2" fill="none" stroke="#008000" stroke-width="1.9" stroke-linejoin="round"/>
<polyline points="778.6,936.4 982.5,936.4" fill="none" stroke="#008000" stroke-width="1.9" stroke-linejoin="round"/>
<polyline points="778.6,937.5 982.5,937.5" fill="none" stroke="#008000" stroke-width="1.9" stroke-linejoin="round"/>
<polyline points="778.6,953.0 982.5,953.0" fill="none" stroke="#008000" stroke-width="1.9" stroke-linejoin="round"/>
<polyline points="778.6,966.8 982.5,966.8" fill="none" stroke="#008000" stroke-width="1.9" stroke-linejoin="round"/>
<polyline points="778.6,986.9 982.5,986.9" fill="none" stroke="#008000" stroke-width="1.9" stroke-linejoin="round"/>
<polyline points="778.6,991.8 982.5,991.8" fill="none" stroke="#008000" stroke-width="1.9" stroke-linejoin="round"/>
<polyline points="778.6,992.9 982.5,992.9" fill="none" stroke="#008000" stroke-width="1.9" stroke-linejoin="round"/>
<polyline points="938.2,951.8 982.5,951.8" fill="none" stroke="#008000" stroke-width="1.9" stroke-linejoin="round"/>
<polyline points="778.6,1001.5 822.0,1002.7 840.5,1003.0 823.2,1004.4 834.7,1005.0 818.6,1007.3 830.1,1008.1 808.8,1009.0 824.4,1010.1 832.4,1012.5 856.0,1012.2 855.4,1013.6 868.0,1015.0 883.0,1015.0 883.0,1016.5 894.5,1017.6 880.7,1018.8 845.0,1019.9 871.5,1021.6 862.3,1023.4 877.2,1024.2 847.4,1025.1 870.4,1026.8 833.0,1028.0 876.1,1030.6 885.3,1032.6 860.0,1033.7 879.5,1034.5 846.8,1035.1 917.5,1036.6 982.5,1037.8 982.5,1041.2 830.1,1043.3 778.6,1042.9 778.6,1044.1 830.1,1044.4 778.6,1045.2" fill="none" stroke="#008000" stroke-width="1.9" stroke-linejoin="round"/>
<polyline points="778.6,1048.6 814.0,1049.2 819.8,1048.8 854.2,1050.7 873.8,1050.0 873.8,1051.5 926.7,1052.3 958.3,1052.3 931.3,1054.1 956.6,1054.3 931.3,1055.5 956.6,1055.5 963.5,1056.1 982.5,1056.7 982.5,1057.6" fill="none" stroke="#008000" stroke-width="1.9" stroke-linejoin="round"/>
<polyline points="982.5,1064.9 957.8,1064.9 982.5,1066.4 910.6,1068.4 889.3,1067.9 823.2,1070.2 887.6,1071.6 929.0,1072.8 883.0,1073.9 952.0,1075.0 917.5,1076.8 856.5,1077.3 800.2,1079.9 778.6,1080.8 778.6,1082.5 830.1,1083.1 837.0,1084.2 910.6,1086.3 946.8,1087.5 910.6,1087.7 859.4,1089.1 879.5,1090.6 901.4,1090.2 929.6,1091.4 925.5,1093.5 958.9,1093.5 982.5,1094.6 982.5,1096.0 941.6,1097.8 923.2,1097.5 915.2,1100.6 891.6,1100.1 870.4,1102.9 908.9,1103.8 869.2,1106.7 893.9,1107.8 866.3,1110.1 896.2,1111.8 875.0,1113.0 848.5,1116.5 857.7,1117.6 844.5,1120.1 869.8,1122.4 850.2,1123.9 893.4,1126.8 893.4,1128.5 880.7,1129.7 865.2,1133.1 875.0,1134.8 847.4,1137.4 866.9,1140.0 841.6,1141.8 837.0,1142.7 778.6,1145.2" fill="none" stroke="#008000" stroke-width="1.9" stroke-linejoin="round"/>
</g>
<rect x="778.50" y="123.50" width="204.00" height="1075.00" fill="none" stroke="#000" stroke-width="1.15"/>
<path d="M778.50 1198.50v6.00M778.50 123.50v-6.00M863.50 1198.50v6.00M863.50 123.50v-6.00M948.50 1198.50v6.00M948.50 123.50v-6.00M778.50 1198.50h-6.00M982.50 1198.50h6.00M778.50 1044.93h-6.00M982.50 1044.93h6.00M778.50 891.36h-6.00M982.50 891.36h6.00M778.50 737.79h-6.00M982.50 737.79h6.00M778.50 584.21h-6.00M982.50 584.21h6.00M778.50 430.64h-6.00M982.50 430.64h6.00M778.50 277.07h-6.00M982.50 277.07h6.00M778.50 123.50h-6.00M982.50 123.50h6.00" stroke="#000" stroke-width="2.4" fill="none"/>
<text x="773.72" y="1219.80" font-family="Liberation Serif, serif" font-size="18.34" fill="#000" stroke="#000" stroke-width="0.3" textLength="9.56" lengthAdjust="spacingAndGlyphs">0</text>
<text x="853.12" y="1219.80" font-family="Liberation Serif, serif" font-size="18.34" fill="#000" stroke="#000" stroke-width="0.3" textLength="20.35" lengthAdjust="spacingAndGlyphs">50</text>
<text x="932.50" y="1219.80" font-family="Liberation Serif, serif" font-size="18.34" fill="#000" stroke="#000" stroke-width="0.3" textLength="30.98" lengthAdjust="spacingAndGlyphs">100</text>
<text x="758.01" y="1205.10" font-family="Liberation Serif, serif" font-size="18.34" fill="#000" stroke="#000" stroke-width="0.3" textLength="9.56" lengthAdjust="spacingAndGlyphs">0</text>
<text x="757.95" y="1051.53" font-family="Liberation Serif, serif" font-size="18.34" fill="#000" stroke="#000" stroke-width="0.3" textLength="9.40" lengthAdjust="spacingAndGlyphs">2</text>
<text x="757.78" y="897.96" font-family="Liberation Serif, serif" font-size="18.34" fill="#000" stroke="#000" stroke-width="0.3" textLength="9.63" lengthAdjust="spacingAndGlyphs">4</text>
<text x="757.94" y="744.39" font-family="Liberation Serif, serif" font-size="18.34" fill="#000" stroke="#000" stroke-width="0.3" textLength="9.53" lengthAdjust="spacingAndGlyphs">6</text>
<text x="758.03" y="590.81" font-family="Liberation Serif, serif" font-size="18.34" fill="#000" stroke="#000" stroke-width="0.3" textLength="9.52" lengthAdjust="spacingAndGlyphs">8</text>
<text x="747.29" y="437.24" font-family="Liberation Serif, serif" font-size="18.34" fill="#000" stroke="#000" stroke-width="0.3" textLength="20.33" lengthAdjust="spacingAndGlyphs">10</text>
<text x="747.30" y="283.67" font-family="Liberation Serif, serif" font-size="18.34" fill="#000" stroke="#000" stroke-width="0.3" textLength="20.12" lengthAdjust="spacingAndGlyphs">12</text>
<text x="747.30" y="130.10" font-family="Liberation Serif, serif" font-size="18.34" fill="#000" stroke="#000" stroke-width="0.3" textLength="20.12" lengthAdjust="spacingAndGlyphs">14</text>
</g>
<g id="panel4">
<path d="M1146.50 123.50V1198.50M1197.50 123.50V1198.50M1248.50 123.50V1198.50M1095.50 1198.50H1299.50M1095.50 1044.50H1299.50M1095.50 891.50H1299.50M1095.50 737.50H1299.50M1095.50 584.50H1299.50M1095.50 430.50H1299.50M1095.50 277.50H1299.50M1095.50 123.50H1299.50" stroke="#b0b0b0" stroke-width="1" fill="none" shape-rendering="crispEdges"/>
<g clip-path="url(#c3)">
<polyline points="1259.8,146.2 1292.0,145.6 1299.5,144.7 1299.5,146.2 1292.0,146.1" fill="none" stroke="#ffa500" stroke-width="1.9" stroke-linejoin="round"/>
<polyline points="1254.0,152.5 1263.2,153.7 1280.5,158.2 1299.5,158.6" fill="none" stroke="#ffa500" stroke-width="1.9" stroke-linejoin="round"/>
<polyline points="1274.8,187.6 1299.5,186.8" fill="none" stroke="#ffa500" stroke-width="1.9" stroke-linejoin="round"/>
<polyline points="1248.3,193.3 1292.0,193.3 1294.3,192.8 1292.0,195.1 1296.6,196.8 1292.0,197.4 1286.2,198.5 1299.5,199.9" fill="none" stroke="#ffa500" stroke-width="1.9" stroke-linejoin="round"/>
<polyline points="1299.5,267.0 1274.8,269.0 1241.4,270.7 1270.2,271.3 1233.9,271.9 1270.2,272.2 1243.7,273.6 1299.5,274.1" fill="none" stroke="#ffa500" stroke-width="1.9" stroke-linejoin="round"/>
<polyline points="1299.5,323.4 1296.0,323.6 1299.5,324.5" fill="none" stroke="#ffa500" stroke-width="1.9" stroke-linejoin="round"/>
<polyline points="1299.5,332.8 1288.0,332.8" fill="none" stroke="#ffa500" stroke-width="1.9" stroke-linejoin="round"/>
<polyline points="1299.5,335.7 1288.5,336.0 1299.5,336.8 1288.5,337.4 1299.5,338.3 1263.2,339.0 1299.5,340.3 1299.5,341.4 1249.5,342.0 1242.5,343.1 1263.8,342.9 1246.0,344.5 1263.8,344.1 1263.8,344.9 1299.5,345.4" fill="none" stroke="#ffa500" stroke-width="1.9" stroke-linejoin="round"/>
<polyline points="1139.0,379.0 1299.5,377.9" fill="none" stroke="#ffa500" stroke-width="1.9" stroke-linejoin="round"/>
<polyline points="1098.2,491.0 1246.0,490.7 1299.5,489.9" fill="none" stroke="#ffa500" stroke-width="1.9" stroke-linejoin="round"/>
<polyline points="1095.6,497.8 1299.5,497.9" fill="none" stroke="#ffa500" stroke-width="1.9" stroke-linejoin="round"/>
<polyline points="1130.1,538.2 1299.5,538.0" fill="none" stroke="#ffa500" stroke-width="1.9" stroke-linejoin="round"/>
<polyline points="1265.3,574.9 1293.7,575.0 1293.7,574.1 1299.5,574.1 1299.5,575.3 1265.3,575.2" fill="none" stroke="#ffa500" stroke-width="1.9" stroke-linejoin="round"/>
<polyline points="1095.6,623.0 1200.0,622.5 1257.5,622.0 1275.3,621.2" fill="none" stroke="#ffa500" stroke-width="1.9" stroke-linejoin="round"/>
<polyline points="1095.6,645.9 1177.0,645.3 1246.0,644.2 1299.5,642.8" fill="none" stroke="#ffa500" stroke-width="1.9" stroke-linejoin="round"/>
<polyline points="1095.6,693.0 1123.0,694.1 1132.2,693.9 1132.2,695.0 1170.1,694.9 1173.0,695.3 1169.0,696.1 1131.0,696.5 1123.0,695.7 1131.0,696.7 1095.6,697.3" fill="none" stroke="#ffa500" stroke-width="1.9" stroke-linejoin="round"/>
<polyline points="1095.6,705.1 1200.0,706.2 1299.5,708.0" fill="none" stroke="#ffa500" stroke-width="1.9" stroke-linejoin="round"/>
<polyline points="1095.6,729.8 1200.0,731.0 1223.0,732.4 1299.5,734.7" fill="none" stroke="#ffa500" stroke-width="1.9" stroke-linejoin="round"/>
<polyline points="1095.6,858.7 1299.5,859.1" fill="none" stroke="#ffa500" stroke-width="1.9" stroke-linejoin="round"/>
<polyline points="1200.3,921.2 1299.5,921.9" fill="none" stroke="#ffa500" stroke-width="1.9" stroke-linejoin="round"/>
<polyline points="1095.6,973.1 1200.0,974.0 1257.5,975.1 1299.5,976.9" fill="none" stroke="#ffa500" stroke-width="1.9" stroke-linejoin="round"/>
<polyline points="1299.5,991.3 1246.0,992.6 1200.0,995.0 1182.8,997.2 1167.8,1000.1 1158.6,1004.7 1150.5,1009.9 1148.5,1014.5 1150.0,1019.1 1152.3,1026.0 1151.5,1030.6 1147.1,1035.8 1135.6,1041.0 1123.0,1045.0 1111.5,1047.8 1095.6,1049.8" fill="none" stroke="#ffa500" stroke-width="1.9" stroke-linejoin="round"/>
<polyline points="1095.6,1099.9 1108.0,1106.6 1123.0,1112.3 1131.0,1118.1 1133.9,1122.7 1131.0,1129.6 1126.4,1136.5 1119.5,1143.4 1111.5,1150.8 1105.7,1158.3 1102.8,1165.8 1101.7,1171.8 1125.2,1176.7 1146.0,1180.5 1171.2,1183.6 1200.0,1185.3 1242.0,1186.2 1223.0,1187.9 1200.0,1189.7 1150.5,1190.9 1146.0,1192.2 1125.2,1194.0 1095.6,1194.9" fill="none" stroke="#ffa500" stroke-width="1.9" stroke-linejoin="round"/>
<polyline points="1145.7,115.5 1145.7,885.1 1197.7,890.0 1248.3,893.5 1299.5,895.4" fill="none" stroke="#000000" stroke-width="2.1" stroke-linejoin="round"/>
<polyline points="1095.6,1030.0 1147.1,1032.7 1197.7,1035.4 1228.8,1038.1 1299.5,1040.0" fill="none" stroke="#000000" stroke-width="2.1" stroke-linejoin="round"/>
<polyline points="1299.5,1055.6 1246.0,1058.2 1197.7,1060.5 1165.5,1063.0 1149.4,1064.9 1174.7,1066.8 1187.9,1069.1 1176.4,1071.7 1189.7,1074.5 1200.0,1074.9 1192.5,1076.0 1193.1,1077.2 1179.3,1078.3 1195.4,1081.2 1246.0,1084.1 1263.2,1086.0 1246.0,1088.1 1228.8,1089.8 1217.2,1091.8 1226.5,1096.2 1220.7,1097.9 1221.3,1100.2 1219.5,1101.9 1220.7,1104.2 1213.8,1105.9 1197.7,1108.2 1165.5,1111.7 1149.4,1113.4 1144.8,1114.5 1154.0,1116.3 1177.0,1120.3 1181.6,1122.3 1175.8,1124.9 1165.5,1127.2 1147.1,1130.4 1119.5,1133.0 1095.6,1134.7" fill="none" stroke="#000000" stroke-width="2.1" stroke-linejoin="round"/>
<polyline points="1299.5,1146.2 1246.0,1148.8 1200.0,1152.6 1171.2,1157.2 1154.0,1161.2 1144.8,1165.2 1134.5,1171.3 1136.8,1172.1 1145.7,1172.5 1145.7,1198.0" fill="none" stroke="#000000" stroke-width="2.1" stroke-linejoin="round"/>
</g>
<rect x="1095.50" y="123.50" width="204.00" height="1075.00" fill="none" stroke="#000" stroke-width="1.15"/>
<path d="M1095.50 1198.50v6.00M1095.50 123.50v-6.00M1146.50 1198.50v6.00M1146.50 123.50v-6.00M1197.50 1198.50v6.00M1197.50 123.50v-6.00M1248.50 1198.50v6.00M1248.50 123.50v-6.00M1299.50 1198.50v6.00M1299.50 123.50v-6.00M1095.50 1198.50h-6.00M1299.50 1198.50h6.00M1095.50 1044.93h-6.00M1299.50 1044.93h6.00M1095.50 891.36h-6.00M1299.50 891.36h6.00M1095.50 737.79h-6.00M1299.50 737.79h6.00M1095.50 584.21h-6.00M1299.50 584.21h6.00M1095.50 430.64h-6.00M1299.50 430.64h6.00M1095.50 277.07h-6.00M1299.50 277.07h6.00M1095.50 123.50h-6.00M1299.50 123.50h6.00" stroke="#000" stroke-width="2.4" fill="none"/>
<text x="1084.38" y="1219.80" font-family="Liberation Serif, serif" font-size="18.34" fill="#000" stroke="#000" stroke-width="0.3" textLength="22.46" lengthAdjust="spacingAndGlyphs">−1</text>
<text x="1141.72" y="1219.80" font-family="Liberation Serif, serif" font-size="18.34" fill="#000" stroke="#000" stroke-width="0.3" textLength="9.56" lengthAdjust="spacingAndGlyphs">0</text>
<text x="1193.08" y="1219.80" font-family="Liberation Serif, serif" font-size="18.34" fill="#000" stroke="#000" stroke-width="0.3" textLength="8.38" lengthAdjust="spacingAndGlyphs">1</text>
<text x="1243.90" y="1219.80" font-family="Liberation Serif, serif" font-size="18.34" fill="#000" stroke="#000" stroke-width="0.3" textLength="9.40" lengthAdjust="spacingAndGlyphs">2</text>
<text x="1294.70" y="1219.80" font-family="Liberation Serif, serif" font-size="18.34" fill="#000" stroke="#000" stroke-width="0.3" textLength="9.44" lengthAdjust="spacingAndGlyphs">3</text>
<text x="1075.01" y="1205.10" font-family="Liberation Serif, serif" font-size="18.34" fill="#000" stroke="#000" stroke-width="0.3" textLength="9.56" lengthAdjust="spacingAndGlyphs">0</text>
<text x="1074.95" y="1051.53" font-family="Liberation Serif, serif" font-size="18.34" fill="#000" stroke="#000" stroke-width="0.3" textLength="9.40" lengthAdjust="spacingAndGlyphs">2</text>
<text x="1074.78" y="897.96" font-family="Liberation Serif, serif" font-size="18.34" fill="#000" stroke="#000" stroke-width="0.3" textLength="9.63" lengthAdjust="spacingAndGlyphs">4</text>
<text x="1074.94" y="744.39" font-family="Liberation Serif, serif" font-size="18.34" fill="#000" stroke="#000" stroke-width="0.3" textLength="9.53" lengthAdjust="spacingAndGlyphs">6</text>
<text x="1075.03" y="590.81" font-family="Liberation Serif, serif" font-size="18.34" fill="#000" stroke="#000" stroke-width="0.3" textLength="9.52" lengthAdjust="spacingAndGlyphs">8</text>
<text x="1064.29" y="437.24" font-family="Liberation Serif, serif" font-size="18.34" fill="#000" stroke="#000" stroke-width="0.3" textLength="20.33" lengthAdjust="spacingAndGlyphs">10</text>
<text x="1064.30" y="283.67" font-family="Liberation Serif, serif" font-size="18.34" fill="#000" stroke="#000" stroke-width="0.3" textLength="20.12" lengthAdjust="spacingAndGlyphs">12</text>
<text x="1064.30" y="130.10" font-family="Liberation Serif, serif" font-size="18.34" fill="#000" stroke="#000" stroke-width="0.3" textLength="20.12" lengthAdjust="spacingAndGlyphs">14</text>
</g>
<g id="panel5">
<path d="M1479.50 123.50V1198.50M1547.50 123.50V1198.50M1411.50 1198.50H1615.50M1411.50 1044.50H1615.50M1411.50 891.50H1615.50M1411.50 737.50H1615.50M1411.50 584.50H1615.50M1411.50 430.50H1615.50M1411.50 277.50H1615.50M1411.50 123.50H1615.50" stroke="#b0b0b0" stroke-width="1" fill="none" shape-rendering="crispEdges"/>
<g clip-path="url(#c4)">
<polyline points="1415.4,123.8 1416.5,129.5 1418.2,136.4 1421.7,142.7 1429.8,145.0 1443.5,145.6 1421.7,146.8 1418.2,149.1" fill="none" stroke="#0000ff" stroke-width="1.9" stroke-linejoin="round"/>
<polyline points="1411.9,161.7 1413.7,169.8 1416.0,173.2" fill="none" stroke="#0000ff" stroke-width="1.9" stroke-linejoin="round"/>
<polyline points="1411.6,180.7 1430.9,181.0 1424.0,183.0 1505.7,183.3 1424.0,184.5 1411.6,187.0" fill="none" stroke="#0000ff" stroke-width="1.9" stroke-linejoin="round"/>
<polyline points="1411.6,193.9 1429.8,194.8 1411.6,195.6" fill="none" stroke="#0000ff" stroke-width="1.9" stroke-linejoin="round"/>
<polyline points="1411.6,211.4 1437.8,211.7 1424.0,213.4 1418.8,215.8 1421.7,217.5 1418.2,218.6 1424.6,219.8 1420.5,222.1 1416.5,223.8 1418.2,225.5 1414.6,228.4 1416.0,233.0 1415.4,238.8 1416.5,244.5 1416.0,250.2 1417.1,256.0 1418.2,258.9 1411.6,260.6 1423.4,263.5 1420.0,265.8 1438.4,266.9 1447.0,268.9 1421.7,269.8 1417.1,272.7 1416.0,274.1" fill="none" stroke="#0000ff" stroke-width="1.9" stroke-linejoin="round"/>
<polyline points="1420.0,264.6 1438.4,266.5 1447.0,268.8 1421.7,269.8 1417.1,273.2 1418.8,276.6 1416.0,278.4 1426.9,281.0 1418.2,283.0 1421.7,285.9 1560.3,287.0 1427.5,288.4 1412.5,289.5 1435.5,291.0 1481.5,292.1 1416.0,292.9 1481.5,293.6 1447.0,294.4 1433.2,295.6 1418.8,297.4 1422.3,299.6 1421.7,306.0 1417.7,308.9 1418.2,312.3 1416.0,315.8 1419.4,320.4 1416.5,323.8 1417.1,333.0 1414.8,338.8 1417.1,343.4 1429.2,345.4 1418.2,346.6 1434.9,348.5 1421.7,349.7 1418.8,352.0 1413.7,356.0 1416.0,359.4 1417.1,364.1 1415.4,369.8 1416.0,374.4 1418.2,376.1 1411.6,377.9 1418.2,381.3 1531.5,383.4 1421.7,384.5 1411.6,385.9 1414.8,388.2 1412.5,391.1 1464.8,391.9 1411.6,392.8 1414.8,400.9 1415.4,405.5 1414.2,413.5 1414.8,420.1" fill="none" stroke="#0000ff" stroke-width="1.9" stroke-linejoin="round"/>
<polyline points="1414.8,410.0 1415.4,421.5 1416.0,433.0 1417.1,438.8 1416.0,443.4 1418.8,449.1 1416.5,453.7 1420.0,457.1 1418.2,458.9 1432.0,459.8 1420.0,460.6 1418.2,462.9 1415.4,467.5 1417.1,479.0 1414.8,483.6 1417.1,485.9 1455.0,486.8 1455.0,488.2 1615.5,488.8 1615.5,490.2 1411.6,490.5 1411.6,492.2 1421.7,492.8 1449.9,494.2 1411.6,495.7 1489.5,496.8 1615.5,498.0 1615.5,499.5 1411.6,498.8" fill="none" stroke="#0000ff" stroke-width="1.9" stroke-linejoin="round"/>
<polyline points="1411.6,502.0 1412.5,504.3 1411.6,506.6" fill="none" stroke="#0000ff" stroke-width="1.9" stroke-linejoin="round"/>
<polyline points="1411.6,529.0 1615.5,529.4 1615.5,530.5 1437.8,530.8 1423.4,531.3 1432.0,533.6 1414.8,534.0 1428.6,536.3 1419.4,537.1 1423.4,538.2 1418.2,541.1 1451.6,542.0 1418.2,542.8 1411.6,544.5 1414.8,548.0 1413.7,553.8 1415.4,559.5 1416.5,566.1" fill="none" stroke="#0000ff" stroke-width="1.9" stroke-linejoin="round"/>
<polyline points="1415.4,560.0 1416.5,565.8 1414.8,571.5 1415.4,577.2 1421.5,578.7 1415.4,579.8 1416.5,588.8 1416.0,600.2 1418.2,608.3 1420.0,612.3 1424.6,614.0 1422.3,615.8 1429.8,616.9 1480.1,617.8 1429.8,618.4 1411.6,618.6" fill="none" stroke="#0000ff" stroke-width="1.9" stroke-linejoin="round"/>
<polyline points="1411.6,647.4 1431.8,648.0 1418.2,649.5 1428.8,651.2 1417.1,652.0 1416.5,658.9 1418.2,662.4 1423.4,664.6 1428.0,665.2 1432.0,668.1 1447.0,670.4 1462.5,672.5 1433.2,673.3 1434.3,675.0 1421.7,673.9 1424.0,676.1 1418.8,679.8 1422.8,681.3 1439.0,683.0 1421.7,684.2 1448.2,685.7 1430.9,687.1 1416.0,688.2 1411.6,688.8 1411.6,692.2 1452.8,693.1 1431.5,694.0 1432.0,695.1 1418.2,695.7 1423.4,699.4 1412.5,700.9 1422.3,702.4 1412.5,703.8 1424.0,706.3 1412.5,707.8 1441.5,709.2 1412.5,710.6 1416.0,713.0 1412.5,716.1" fill="none" stroke="#0000ff" stroke-width="1.9" stroke-linejoin="round"/>
<polyline points="1412.5,710.0 1414.2,721.5 1413.7,727.2 1415.4,729.0 1432.0,730.1 1421.1,731.3 1418.2,733.6 1417.1,737.6 1414.2,742.2 1413.1,750.2 1414.2,756.0 1412.5,761.8 1411.6,769.8 1459.7,771.0 1411.6,772.1 1417.7,777.9 1413.7,780.7 1416.5,783.6 1416.5,788.2 1418.2,792.2 1416.0,797.4 1413.7,802.0 1414.8,807.8 1413.9,813.5 1414.2,825.0 1414.8,836.5 1414.8,848.0 1417.1,851.5 1418.2,853.8 1425.7,855.1 1411.6,855.8" fill="none" stroke="#0000ff" stroke-width="1.9" stroke-linejoin="round"/>
<polyline points="1411.6,863.0 1412.5,866.1" fill="none" stroke="#0000ff" stroke-width="1.9" stroke-linejoin="round"/>
<polyline points="1411.6,862.3 1412.5,871.5 1413.1,880.7 1411.9,887.6 1411.6,889.3 1577.0,890.1 1428.6,891.0 1421.7,892.8 1436.1,895.6 1418.2,898.0 1421.1,899.7 1418.2,901.4 1421.7,906.0 1430.9,907.7 1421.7,909.5 1480.3,910.3 1424.6,911.4 1418.2,913.5 1420.5,915.8 1445.8,917.5 1469.1,919.0 1411.6,919.6" fill="none" stroke="#0000ff" stroke-width="1.9" stroke-linejoin="round"/>
<polyline points="1411.6,926.7 1413.7,927.3 1411.6,927.9" fill="none" stroke="#0000ff" stroke-width="1.9" stroke-linejoin="round"/>
<polyline points="1413.7,935.9 1417.1,944.0 1416.5,947.4 1418.5,951.4 1416.5,957.8 1417.1,962.4 1418.2,966.4 1425.7,968.1 1473.2,969.2 1411.6,970.2" fill="none" stroke="#0000ff" stroke-width="1.9" stroke-linejoin="round"/>
<polyline points="1411.6,978.5 1436.9,979.0 1413.1,979.6 1413.4,986.5 1412.5,992.2 1413.1,994.0 1434.3,997.4 1435.5,998.0 1429.2,1002.0 1428.6,1009.5 1427.7,1016.1" fill="none" stroke="#0000ff" stroke-width="1.9" stroke-linejoin="round"/>
<polyline points="1428.6,1010.0 1428.0,1019.2 1426.9,1027.2 1424.6,1031.3 1418.2,1034.2 1411.6,1036.7" fill="none" stroke="#0000ff" stroke-width="1.9" stroke-linejoin="round"/>
<polyline points="1411.6,1075.5 1412.5,1090.5 1413.7,1107.8 1415.4,1125.0 1417.1,1136.5 1419.4,1148.0 1422.8,1157.2 1426.3,1166.1" fill="none" stroke="#0000ff" stroke-width="1.9" stroke-linejoin="round"/>
<polyline points="1422.8,1157.2 1426.1,1165.2 1426.9,1171.0 1426.5,1178.8 1421.7,1179.0 1423.4,1180.7 1422.8,1185.9 1420.5,1189.3 1418.0,1192.8 1418.0,1196.2 1414.2,1197.2" fill="none" stroke="#0000ff" stroke-width="1.9" stroke-linejoin="round"/>
<polyline points="1411.6,136.4 1413.7,141.0 1418.2,149.1 1421.7,151.3 1436.7,151.9 1440.1,154.2 1412.5,154.8" fill="none" stroke="#008000" stroke-width="1.9" stroke-linejoin="round"/>
<polyline points="1411.6,177.8 1429.8,177.8 1527.5,178.4 1470.0,180.7 1420.5,183.0 1419.4,185.9 1430.9,187.0 1443.5,188.7 1615.5,191.0 1615.5,192.2 1443.5,191.6 1615.5,193.3 1615.5,194.8 1443.5,194.5 1615.5,196.2 1562.0,199.1 1470.0,200.2 1489.5,203.1 1424.0,205.4 1420.0,208.9 1420.0,211.7 1421.7,215.8 1445.8,219.2 1525.2,219.0 1539.0,220.6 1445.8,220.9 1424.0,222.1 1432.0,224.7 1418.2,227.2 1422.3,231.9 1418.8,234.2 1420.5,238.8 1418.2,242.2 1416.5,248.0 1415.4,253.7 1413.7,258.9 1411.6,260.4 1486.7,260.8 1411.6,261.5" fill="none" stroke="#008000" stroke-width="1.9" stroke-linejoin="round"/>
<polyline points="1411.6,267.5 1412.5,271.0 1411.6,274.1" fill="none" stroke="#008000" stroke-width="1.9" stroke-linejoin="round"/>
<polyline points="1411.6,267.4 1412.5,275.5 1413.1,282.4 1411.6,290.4 1418.8,292.2 1411.6,293.7 1413.7,298.5 1413.1,304.2 1416.0,308.3 1411.9,311.1 1414.8,311.7 1411.6,312.3" fill="none" stroke="#008000" stroke-width="1.9" stroke-linejoin="round"/>
<polyline points="1411.6,341.1 1413.7,346.2 1421.7,349.7 1459.7,351.2 1425.7,352.6 1457.3,353.9 1429.2,354.9 1456.8,355.8 1439.0,356.9 1411.6,357.4 1411.6,361.2 1462.0,362.0 1424.0,363.1 1476.9,365.0 1478.0,366.4 1615.5,366.9 1615.5,368.1 1411.6,368.4" fill="none" stroke="#008000" stroke-width="1.9" stroke-linejoin="round"/>
<polyline points="1411.6,394.0 1428.0,394.5 1411.6,395.1 1483.8,393.6 1503.3,395.1 1615.5,396.2 1411.6,396.5 1615.5,397.4 1411.6,398.1 1615.5,398.8 1411.6,399.5" fill="none" stroke="#008000" stroke-width="1.9" stroke-linejoin="round"/>
<polyline points="1411.6,403.7 1455.0,403.7 1537.8,405.7 1615.5,407.5 1615.5,408.7 1424.0,409.1 1455.0,404.9 1537.8,407.1 1424.0,407.8 1411.6,408.3 1430.9,410.6 1421.7,412.4 1418.8,414.6 1413.7,417.0 1417.1,418.1 1412.5,420.1" fill="none" stroke="#008000" stroke-width="1.9" stroke-linejoin="round"/>
<polyline points="1430.9,410.6 1413.7,412.3 1419.4,414.0 1412.5,416.3 1417.1,416.9 1411.6,419.8 1444.7,421.2 1411.6,422.1 1413.1,427.2 1412.5,433.0 1414.2,439.9 1413.1,444.5 1415.4,450.2 1413.1,456.0 1416.0,459.4 1414.2,464.1 1418.2,468.6 1414.2,474.4 1412.5,480.1 1411.6,484.8 1416.0,488.2 1428.0,489.9 1422.3,491.1 1443.0,492.2 1422.8,493.9 1433.8,495.1 1418.8,498.0 1430.9,499.1 1440.1,501.1 1425.7,502.0 1422.8,504.9 1431.5,505.4 1411.6,507.8 1427.5,508.7 1411.6,509.8 1455.0,511.0 1427.5,512.1 1423.4,514.1 1460.8,515.2 1440.1,516.4 1439.5,518.1 1421.7,518.7 1424.6,520.6 1416.5,523.3 1414.8,529.6 1413.7,534.2 1415.4,536.5 1411.6,540.0 1414.8,542.2 1428.0,543.4 1416.0,545.1 1422.3,546.6 1416.5,548.6 1414.8,553.8 1419.4,559.5 1416.0,563.0 1417.1,566.1" fill="none" stroke="#008000" stroke-width="1.9" stroke-linejoin="round"/>
<polyline points="1418.2,560.0 1415.4,565.8 1414.2,573.8 1415.4,583.0 1418.2,587.0 1433.8,589.9 1424.0,591.0 1443.3,593.1 1411.6,593.9" fill="none" stroke="#008000" stroke-width="1.9" stroke-linejoin="round"/>
<polyline points="1411.6,619.8 1412.5,623.8 1423.4,625.0 1413.7,626.1 1418.2,627.9 1413.1,630.1 1411.6,634.8 1413.1,640.5 1414.2,647.4 1413.7,654.3 1414.8,658.9 1424.6,661.2 1411.6,662.4 1411.6,668.1 1524.6,669.5 1411.6,671.0 1414.2,673.9 1415.4,680.8 1413.1,684.2 1417.1,687.1 1411.6,688.2 1411.6,690.5 1424.0,691.1 1418.2,693.4 1414.8,698.0 1414.8,707.2 1422.3,710.6 1421.7,713.5 1411.6,716.1" fill="none" stroke="#008000" stroke-width="1.9" stroke-linejoin="round"/>
<polyline points="1422.3,710.0 1421.7,713.5 1412.5,715.2 1424.6,716.9 1424.6,718.6 1412.5,719.2 1413.7,725.0 1413.1,733.0 1411.9,744.5 1411.6,755.4 1468.8,757.4 1602.8,756.9 1468.8,758.9 1424.6,760.6 1436.7,761.2 1615.5,762.3 1411.6,763.1 1615.5,763.6 1411.6,764.5 1615.5,765.0 1411.6,765.9 1615.5,766.4 1472.3,767.5 1411.6,768.1 1443.5,769.8 1439.0,772.1 1425.2,773.2 1418.2,776.7 1420.0,780.1 1426.3,783.0 1446.8,785.0 1411.6,785.7" fill="none" stroke="#008000" stroke-width="1.9" stroke-linejoin="round"/>
<polyline points="1411.6,823.9 1414.8,825.0 1411.6,826.1 1419.4,827.3 1411.6,828.5 1441.8,830.8 1445.8,832.1 1421.7,833.6 1455.0,835.6 1511.4,837.4 1437.8,839.0 1411.6,840.5 1440.7,843.2 1418.2,845.7 1416.0,851.5 1418.8,853.8 1417.1,857.2 1435.5,860.3 1411.6,860.9" fill="none" stroke="#008000" stroke-width="1.9" stroke-linejoin="round"/>
<polyline points="1411.6,860.6 1435.5,860.9 1411.6,861.7" fill="none" stroke="#008000" stroke-width="1.9" stroke-linejoin="round"/>
<polyline points="1411.6,867.5 1417.1,869.8 1421.1,873.8 1421.7,876.1 1433.8,877.0 1421.1,878.2 1418.2,881.9 1414.8,885.3 1417.7,887.4 1615.5,887.9 1411.6,888.8" fill="none" stroke="#008000" stroke-width="1.9" stroke-linejoin="round"/>
<polyline points="1411.6,898.0 1413.1,906.0 1412.5,915.2 1411.6,917.5" fill="none" stroke="#008000" stroke-width="1.9" stroke-linejoin="round"/>
<polyline points="1411.6,923.8 1419.4,924.4 1432.3,925.9 1412.5,926.9 1424.6,927.9 1412.5,928.8 1434.3,930.1 1462.0,932.1 1425.7,933.0 1425.7,934.5 1412.5,935.3 1413.1,940.5 1411.6,944.0" fill="none" stroke="#008000" stroke-width="1.9" stroke-linejoin="round"/>
<polyline points="1411.6,973.3 1412.5,975.0 1411.6,980.8 1412.5,992.8 1428.6,994.5 1437.6,996.3 1426.9,1001.2 1426.1,1009.5 1425.2,1016.1" fill="none" stroke="#008000" stroke-width="1.9" stroke-linejoin="round"/>
<polyline points="1426.1,1010.0 1425.2,1021.5 1424.6,1030.7 1418.2,1034.4 1414.2,1036.5 1415.4,1050.2 1417.1,1067.5 1418.8,1090.5 1419.4,1107.8 1421.1,1125.0 1423.4,1138.8 1425.7,1151.5 1427.7,1166.1" fill="none" stroke="#008000" stroke-width="1.9" stroke-linejoin="round"/>
<polyline points="1425.7,1149.1 1427.7,1162.9 1428.0,1171.0 1427.5,1179.0 1434.3,1179.6 1436.7,1184.2 1440.1,1187.6 1447.0,1190.5 1458.5,1192.2 1479.2,1193.7 1489.5,1194.9 1493.6,1196.2 1491.8,1197.2 1414.8,1197.6" fill="none" stroke="#008000" stroke-width="1.9" stroke-linejoin="round"/>
</g>
<rect x="1411.50" y="123.50" width="204.00" height="1075.00" fill="none" stroke="#000" stroke-width="1.15"/>
<path d="M1411.50 1198.50v6.00M1411.50 123.50v-6.00M1479.50 1198.50v6.00M1479.50 123.50v-6.00M1547.50 1198.50v6.00M1547.50 123.50v-6.00M1615.50 1198.50v6.00M1615.50 123.50v-6.00M1411.50 1198.50h-6.00M1615.50 1198.50h6.00M1411.50 1044.93h-6.00M1615.50 1044.93h6.00M1411.50 891.36h-6.00M1615.50 891.36h6.00M1411.50 737.79h-6.00M1615.50 737.79h6.00M1411.50 584.21h-6.00M1615.50 584.21h6.00M1411.50 430.64h-6.00M1615.50 430.64h6.00M1411.50 277.07h-6.00M1615.50 277.07h6.00M1411.50 123.50h-6.00M1615.50 123.50h6.00" stroke="#000" stroke-width="2.4" fill="none"/>
<text x="1398.72" y="1219.80" font-family="Liberation Serif, serif" font-size="18.34" fill="#000" stroke="#000" stroke-width="0.3" textLength="25.56" lengthAdjust="spacingAndGlyphs">0.0</text>
<text x="1466.99" y="1219.80" font-family="Liberation Serif, serif" font-size="18.34" fill="#000" stroke="#000" stroke-width="0.3" textLength="25.37" lengthAdjust="spacingAndGlyphs">0.2</text>
<text x="1534.59" y="1219.80" font-family="Liberation Serif, serif" font-size="18.34" fill="#000" stroke="#000" stroke-width="0.3" textLength="25.36" lengthAdjust="spacingAndGlyphs">0.4</text>
<text x="1602.69" y="1219.80" font-family="Liberation Serif, serif" font-size="18.34" fill="#000" stroke="#000" stroke-width="0.3" textLength="25.44" lengthAdjust="spacingAndGlyphs">0.6</text>
<text x="1391.01" y="1205.10" font-family="Liberation Serif, serif" font-size="18.34" fill="#000" stroke="#000" stroke-width="0.3" textLength="9.56" lengthAdjust="spacingAndGlyphs">0</text>
<text x="1390.95" y="1051.53" font-family="Liberation Serif, serif" font-size="18.34" fill="#000" stroke="#000" stroke-width="0.3" textLength="9.40" lengthAdjust="spacingAndGlyphs">2</text>
<text x="1390.78" y="897.96" font-family="Liberation Serif, serif" font-size="18.34" fill="#000" stroke="#000" stroke-width="0.3" textLength="9.63" lengthAdjust="spacingAndGlyphs">4</text>
<text x="1390.94" y="744.39" font-family="Liberation Serif, serif" font-size="18.34" fill="#000" stroke="#000" stroke-width="0.3" textLength="9.53" lengthAdjust="spacingAndGlyphs">6</text>
<text x="1391.03" y="590.81" font-family="Liberation Serif, serif" font-size="18.34" fill="#000" stroke="#000" stroke-width="0.3" textLength="9.52" lengthAdjust="spacingAndGlyphs">8</text>
<text x="1380.29" y="437.24" font-family="Liberation Serif, serif" font-size="18.34" fill="#000" stroke="#000" stroke-width="0.3" textLength="20.33" lengthAdjust="spacingAndGlyphs">10</text>
<text x="1380.30" y="283.67" font-family="Liberation Serif, serif" font-size="18.34" fill="#000" stroke="#000" stroke-width="0.3" textLength="20.12" lengthAdjust="spacingAndGlyphs">12</text>
<text x="1380.30" y="130.10" font-family="Liberation Serif, serif" font-size="18.34" fill="#000" stroke="#000" stroke-width="0.3" textLength="20.12" lengthAdjust="spacingAndGlyphs">14</text>
</g>
<g id="panel6">
<path d="M1810.50 123.50V1198.50M1891.50 123.50V1198.50M1728.50 1198.50H1932.50M1728.50 1044.50H1932.50M1728.50 891.50H1932.50M1728.50 737.50H1932.50M1728.50 584.50H1932.50M1728.50 430.50H1932.50M1728.50 277.50H1932.50M1728.50 123.50H1932.50" stroke="#b0b0b0" stroke-width="1" fill="none" shape-rendering="crispEdges"/>
<g clip-path="url(#c5)">
</g>
<rect x="1728.50" y="123.50" width="204.00" height="1075.00" fill="none" stroke="#000" stroke-width="1.15"/>
<path d="M1728.50 1198.50v6.00M1810.10 1198.50v6.00M1891.70 1198.50v6.00M1728.50 123.50v-6.00M1779.50 123.50v-6.00M1830.50 123.50v-6.00M1881.50 123.50v-6.00M1932.50 123.50v-6.00M1728.50 1198.50h-6.00M1932.50 1198.50h6.00M1728.50 1044.93h-6.00M1932.50 1044.93h6.00M1728.50 891.36h-6.00M1932.50 891.36h6.00M1728.50 737.79h-6.00M1932.50 737.79h6.00M1728.50 584.21h-6.00M1932.50 584.21h6.00M1728.50 430.64h-6.00M1932.50 430.64h6.00M1728.50 277.07h-6.00M1932.50 277.07h6.00M1728.50 123.50h-6.00M1932.50 123.50h6.00" stroke="#000" stroke-width="2.4" fill="none"/>
<text x="1723.72" y="1219.80" font-family="Liberation Serif, serif" font-size="18.34" fill="#000" stroke="#000" stroke-width="0.3" textLength="9.56" lengthAdjust="spacingAndGlyphs">0</text>
<text x="1799.87" y="1219.80" font-family="Liberation Serif, serif" font-size="18.34" fill="#000" stroke="#000" stroke-width="0.3" textLength="20.34" lengthAdjust="spacingAndGlyphs">20</text>
<text x="1881.65" y="1219.80" font-family="Liberation Serif, serif" font-size="18.34" fill="#000" stroke="#000" stroke-width="0.3" textLength="20.47" lengthAdjust="spacingAndGlyphs">40</text>
<text x="1723.72" y="110.20" font-family="Liberation Serif, serif" font-size="18.34" fill="#000" stroke="#000" stroke-width="0.3" textLength="9.56" lengthAdjust="spacingAndGlyphs">0</text>
<text x="1769.37" y="110.20" font-family="Liberation Serif, serif" font-size="18.34" fill="#000" stroke="#000" stroke-width="0.3" textLength="20.17" lengthAdjust="spacingAndGlyphs">25</text>
<text x="1820.12" y="110.20" font-family="Liberation Serif, serif" font-size="18.34" fill="#000" stroke="#000" stroke-width="0.3" textLength="20.35" lengthAdjust="spacingAndGlyphs">50</text>
<text x="1871.04" y="110.20" font-family="Liberation Serif, serif" font-size="18.34" fill="#000" stroke="#000" stroke-width="0.3" textLength="20.36" lengthAdjust="spacingAndGlyphs">75</text>
<text x="1916.50" y="110.20" font-family="Liberation Serif, serif" font-size="18.34" fill="#000" stroke="#000" stroke-width="0.3" textLength="30.98" lengthAdjust="spacingAndGlyphs">100</text>
<text x="1708.01" y="1205.10" font-family="Liberation Serif, serif" font-size="18.34" fill="#000" stroke="#000" stroke-width="0.3" textLength="9.56" lengthAdjust="spacingAndGlyphs">0</text>
<text x="1707.95" y="1051.53" font-family="Liberation Serif, serif" font-size="18.34" fill="#000" stroke="#000" stroke-width="0.3" textLength="9.40" lengthAdjust="spacingAndGlyphs">2</text>
<text x="1707.78" y="897.96" font-family="Liberation Serif, serif" font-size="18.34" fill="#000" stroke="#000" stroke-width="0.3" textLength="9.63" lengthAdjust="spacingAndGlyphs">4</text>
<text x="1707.94" y="744.39" font-family="Liberation Serif, serif" font-size="18.34" fill="#000" stroke="#000" stroke-width="0.3" textLength="9.53" lengthAdjust="spacingAndGlyphs">6</text>
<text x="1708.03" y="590.81" font-family="Liberation Serif, serif" font-size="18.34" fill="#000" stroke="#000" stroke-width="0.3" textLength="9.52" lengthAdjust="spacingAndGlyphs">8</text>
<text x="1697.29" y="437.24" font-family="Liberation Serif, serif" font-size="18.34" fill="#000" stroke="#000" stroke-width="0.3" textLength="20.33" lengthAdjust="spacingAndGlyphs">10</text>
<text x="1697.30" y="283.67" font-family="Liberation Serif, serif" font-size="18.34" fill="#000" stroke="#000" stroke-width="0.3" textLength="20.12" lengthAdjust="spacingAndGlyphs">12</text>
<text x="1697.30" y="130.10" font-family="Liberation Serif, serif" font-size="18.34" fill="#000" stroke="#000" stroke-width="0.3" textLength="20.12" lengthAdjust="spacingAndGlyphs">14</text>
</g>
<text x="-60.37" y="0.00" font-family="Liberation Serif, serif" font-size="22.00" fill="#000" stroke="#000" stroke-width="0.3" textLength="121.87" lengthAdjust="spacingAndGlyphs" transform="translate(105.00 662.00) rotate(-90)">Height [km]</text>
<text x="113.44" y="1247.80" font-family="Liberation Serif, serif" font-size="22.00" fill="#000" stroke="#000" stroke-width="0.3" textLength="194.33" lengthAdjust="spacingAndGlyphs">Backsc. coeff. [Msr</text>
<text x="308.23" y="1240.60" font-family="Liberation Serif, serif" font-size="15.40" fill="#000" stroke="#000" stroke-width="0.3" textLength="19.74" lengthAdjust="spacingAndGlyphs">−1</text>
<text x="335.24" y="1247.80" font-family="Liberation Serif, serif" font-size="22.00" fill="#000" stroke="#000" stroke-width="0.3" textLength="18.99" lengthAdjust="spacingAndGlyphs">m</text>
<text x="354.23" y="1240.60" font-family="Liberation Serif, serif" font-size="15.40" fill="#000" stroke="#000" stroke-width="0.3" textLength="19.74" lengthAdjust="spacingAndGlyphs">−1</text>
<text x="375.06" y="1247.80" font-family="Liberation Serif, serif" font-size="22.00" fill="#000" stroke="#000" stroke-width="0.3" textLength="6.34" lengthAdjust="spacingAndGlyphs">]</text>
<text x="452.45" y="1247.80" font-family="Liberation Serif, serif" font-size="22.00" fill="#000" stroke="#000" stroke-width="0.3" textLength="194.19" lengthAdjust="spacingAndGlyphs">Extinct. coeff. [Mm</text>
<text x="647.02" y="1240.60" font-family="Liberation Serif, serif" font-size="15.40" fill="#000" stroke="#000" stroke-width="0.3" textLength="19.96" lengthAdjust="spacingAndGlyphs">−1</text>
<text x="668.06" y="1247.80" font-family="Liberation Serif, serif" font-size="22.00" fill="#000" stroke="#000" stroke-width="0.3" textLength="6.34" lengthAdjust="spacingAndGlyphs">]</text>
<text x="804.38" y="1243.60" font-family="Liberation Serif, serif" font-size="22.00" fill="#000" stroke="#000" stroke-width="0.3" textLength="152.99" lengthAdjust="spacingAndGlyphs">Lidar ratio [Sr]</text>
<text x="1122.66" y="1249.50" font-family="Liberation Sans, sans-serif" font-size="21.00" font-style="italic" fill="#000" stroke="#000" stroke-width="0.12" textLength="13.57" lengthAdjust="spacingAndGlyphs">Å</text>
<text x="1135.56" y="1249.50" font-family="Liberation Serif, serif" font-size="22.00" fill="#000" stroke="#000" stroke-width="0.3" textLength="137.57" lengthAdjust="spacingAndGlyphs">ngström Exp.</text>
<text x="1453.99" y="1243.80" font-family="Liberation Serif, serif" font-size="22.00" fill="#000" stroke="#000" stroke-width="0.3" textLength="119.04" lengthAdjust="spacingAndGlyphs">Depol. ratio</text>
<text x="1746.13" y="1248.00" font-family="Liberation Serif, serif" font-size="22.00" fill="#000" stroke="#000" stroke-width="0.3" textLength="83.51" lengthAdjust="spacingAndGlyphs">WVMR [</text>
<text x="1830.02" y="1248.00" font-family="Liberation Sans, sans-serif" font-size="21.00" font-style="italic" fill="#000" stroke="#000" stroke-width="0.12" textLength="12.52" lengthAdjust="spacingAndGlyphs">g</text>
<path d="M1852 1234.3V1242.8M1848.1 1236.4L1855.9 1240.7M1848.1 1240.7L1855.9 1236.4" stroke="#000" stroke-width="1.5" stroke-linecap="round" fill="none"/>
<text x="1860.69" y="1248.00" font-family="Liberation Sans, sans-serif" font-size="21.00" font-style="italic" fill="#000" stroke="#000" stroke-width="0.12" textLength="23.85" lengthAdjust="spacingAndGlyphs">kg</text>
<text x="1885.77" y="1240.80" font-family="Liberation Sans, sans-serif" font-size="14.70" fill="#000" stroke="#000" stroke-width="0.12" textLength="20.66" lengthAdjust="spacingAndGlyphs">−1</text>
<text x="1907.46" y="1248.00" font-family="Liberation Serif, serif" font-size="22.00" fill="#000" stroke="#000" stroke-width="0.3" textLength="6.34" lengthAdjust="spacingAndGlyphs">]</text>
<text x="1743.45" y="92.90" font-family="Liberation Serif, serif" font-size="22.00" fill="#000" stroke="#000" stroke-width="0.3" textLength="174.20" lengthAdjust="spacingAndGlyphs">Rel.Humidity [%]</text>
<rect x="97.70" y="131.50" width="243.50" height="202.70" rx="3.2" ry="3.2" fill="#fff" fill-opacity="0.8" stroke="#ccc" stroke-opacity="0.8" stroke-width="1.3"/>
<path d="M102.20 144.90H135.00" stroke="#0000ff" stroke-width="2.1" fill="none"/>
<text x="147.19" y="151.00" font-family="Liberation Serif, serif" font-size="16.81" fill="#000" stroke="#000" stroke-width="0.3" textLength="177.12" lengthAdjust="spacingAndGlyphs">aerBsc_raman_355_FR</text>
<path d="M102.20 169.65H135.00" stroke="#008000" stroke-width="2.1" fill="none"/>
<text x="147.19" y="175.75" font-family="Liberation Serif, serif" font-size="16.81" fill="#000" stroke="#000" stroke-width="0.3" textLength="177.12" lengthAdjust="spacingAndGlyphs">aerBsc_raman_532_FR</text>
<path d="M102.20 194.40H135.00" stroke="#ff0000" stroke-width="2.1" fill="none"/>
<text x="147.19" y="200.50" font-family="Liberation Serif, serif" font-size="16.81" fill="#000" stroke="#000" stroke-width="0.3" textLength="186.84" lengthAdjust="spacingAndGlyphs">aerBsc_raman_1064_FR</text>
<path d="M102.20 219.15H135.00" stroke="#800080" stroke-width="2.1" stroke-dasharray="6.2 2.7" stroke-dashoffset="-0.8" fill="none"/>
<text x="147.21" y="225.25" font-family="Liberation Serif, serif" font-size="16.81" fill="#000" stroke="#000" stroke-width="0.3" textLength="150.25" lengthAdjust="spacingAndGlyphs">aerBsc_RR_355_FR</text>
<path d="M102.20 243.90H135.00" stroke="#808000" stroke-width="2.1" stroke-dasharray="6.2 2.7" stroke-dashoffset="-0.8" fill="none"/>
<text x="147.21" y="250.00" font-family="Liberation Serif, serif" font-size="16.81" fill="#000" stroke="#000" stroke-width="0.3" textLength="150.25" lengthAdjust="spacingAndGlyphs">aerBsc_RR_532_FR</text>
<path d="M102.20 268.65H135.00" stroke="#ffa07a" stroke-width="2.1" stroke-dasharray="6.2 2.7" stroke-dashoffset="-0.8" fill="none"/>
<text x="147.21" y="274.75" font-family="Liberation Serif, serif" font-size="16.81" fill="#000" stroke="#000" stroke-width="0.3" textLength="159.98" lengthAdjust="spacingAndGlyphs">aerBsc_RR_1064_FR</text>
<path d="M102.20 293.40H135.00" stroke="#80ffff" stroke-width="2.1" fill="none"/>
<text x="147.19" y="299.50" font-family="Liberation Serif, serif" font-size="16.81" fill="#000" stroke="#000" stroke-width="0.3" textLength="179.89" lengthAdjust="spacingAndGlyphs">aerBsc_raman_355_NR</text>
<path d="M102.20 318.15H135.00" stroke="#80ff80" stroke-width="2.1" fill="none"/>
<text x="147.19" y="324.25" font-family="Liberation Serif, serif" font-size="16.81" fill="#000" stroke="#000" stroke-width="0.3" textLength="179.89" lengthAdjust="spacingAndGlyphs">aerBsc_raman_532_NR</text>
<rect x="415.40" y="131.50" width="243.10" height="202.70" rx="3.2" ry="3.2" fill="#fff" fill-opacity="0.8" stroke="#ccc" stroke-opacity="0.8" stroke-width="1.3"/>
<path d="M419.90 144.90H452.70" stroke="#0000ff" stroke-width="2.1" fill="none"/>
<text x="464.89" y="151.00" font-family="Liberation Serif, serif" font-size="16.81" fill="#000" stroke="#000" stroke-width="0.3" textLength="175.41" lengthAdjust="spacingAndGlyphs">aerExt_raman_355_FR</text>
<path d="M419.90 169.65H452.70" stroke="#008000" stroke-width="2.1" fill="none"/>
<text x="464.89" y="175.75" font-family="Liberation Serif, serif" font-size="16.81" fill="#000" stroke="#000" stroke-width="0.3" textLength="175.41" lengthAdjust="spacingAndGlyphs">aerExt_raman_532_FR</text>
<path d="M419.90 194.40H452.70" stroke="#ff0000" stroke-width="2.1" fill="none"/>
<text x="464.89" y="200.50" font-family="Liberation Serif, serif" font-size="16.81" fill="#000" stroke="#000" stroke-width="0.3" textLength="185.13" lengthAdjust="spacingAndGlyphs">aerExt_raman_1064_FR</text>
<path d="M419.90 219.15H452.70" stroke="#800080" stroke-width="2.1" stroke-dasharray="6.2 2.7" stroke-dashoffset="-0.8" fill="none"/>
<text x="464.91" y="225.25" font-family="Liberation Serif, serif" font-size="16.81" fill="#000" stroke="#000" stroke-width="0.3" textLength="148.54" lengthAdjust="spacingAndGlyphs">aerExt_RR_355_FR</text>
<path d="M419.90 243.90H452.70" stroke="#808000" stroke-width="2.1" stroke-dasharray="6.2 2.7" stroke-dashoffset="-0.8" fill="none"/>
<text x="464.91" y="250.00" font-family="Liberation Serif, serif" font-size="16.81" fill="#000" stroke="#000" stroke-width="0.3" textLength="148.54" lengthAdjust="spacingAndGlyphs">aerExt_RR_532_FR</text>
<path d="M419.90 268.65H452.70" stroke="#ffa07a" stroke-width="2.1" stroke-dasharray="6.2 2.7" stroke-dashoffset="-0.8" fill="none"/>
<text x="464.91" y="274.75" font-family="Liberation Serif, serif" font-size="16.81" fill="#000" stroke="#000" stroke-width="0.3" textLength="158.26" lengthAdjust="spacingAndGlyphs">aerExt_RR_1064_FR</text>
<path d="M419.90 293.40H452.70" stroke="#80ffff" stroke-width="2.1" fill="none"/>
<text x="464.89" y="299.50" font-family="Liberation Serif, serif" font-size="16.81" fill="#000" stroke="#000" stroke-width="0.3" textLength="178.17" lengthAdjust="spacingAndGlyphs">aerExt_raman_355_NR</text>
<path d="M419.90 318.15H452.70" stroke="#80ff80" stroke-width="2.1" fill="none"/>
<text x="464.89" y="324.25" font-family="Liberation Serif, serif" font-size="16.81" fill="#000" stroke="#000" stroke-width="0.3" textLength="178.17" lengthAdjust="spacingAndGlyphs">aerExt_raman_532_NR</text>
<rect x="736.50" y="131.50" width="237.80" height="202.70" rx="3.2" ry="3.2" fill="#fff" fill-opacity="0.8" stroke="#ccc" stroke-opacity="0.8" stroke-width="1.3"/>
<path d="M741.00 144.90H773.80" stroke="#0000ff" stroke-width="2.1" fill="none"/>
<text x="786.00" y="151.00" font-family="Liberation Serif, serif" font-size="16.81" fill="#000" stroke="#000" stroke-width="0.3" textLength="171.14" lengthAdjust="spacingAndGlyphs">aerLR_raman_355_FR</text>
<path d="M741.00 169.65H773.80" stroke="#008000" stroke-width="2.1" fill="none"/>
<text x="786.00" y="175.75" font-family="Liberation Serif, serif" font-size="16.81" fill="#000" stroke="#000" stroke-width="0.3" textLength="171.14" lengthAdjust="spacingAndGlyphs">aerLR_raman_532_FR</text>
<path d="M741.00 194.40H773.80" stroke="#ff0000" stroke-width="2.1" fill="none"/>
<text x="786.00" y="200.50" font-family="Liberation Serif, serif" font-size="16.81" fill="#000" stroke="#000" stroke-width="0.3" textLength="180.86" lengthAdjust="spacingAndGlyphs">aerLR_raman_1064_FR</text>
<path d="M741.00 219.15H773.80" stroke="#800080" stroke-width="2.1" stroke-dasharray="6.2 2.7" stroke-dashoffset="-0.8" fill="none"/>
<text x="786.02" y="225.25" font-family="Liberation Serif, serif" font-size="16.81" fill="#000" stroke="#000" stroke-width="0.3" textLength="144.27" lengthAdjust="spacingAndGlyphs">aerLR_RR_355_FR</text>
<path d="M741.00 243.90H773.80" stroke="#808000" stroke-width="2.1" stroke-dasharray="6.2 2.7" stroke-dashoffset="-0.8" fill="none"/>
<text x="786.02" y="250.00" font-family="Liberation Serif, serif" font-size="16.81" fill="#000" stroke="#000" stroke-width="0.3" textLength="144.27" lengthAdjust="spacingAndGlyphs">aerLR_RR_532_FR</text>
<path d="M741.00 268.65H773.80" stroke="#ffa07a" stroke-width="2.1" stroke-dasharray="6.2 2.7" stroke-dashoffset="-0.8" fill="none"/>
<text x="786.02" y="274.75" font-family="Liberation Serif, serif" font-size="16.81" fill="#000" stroke="#000" stroke-width="0.3" textLength="153.99" lengthAdjust="spacingAndGlyphs">aerLR_RR_1064_FR</text>
<path d="M741.00 293.40H773.80" stroke="#80ffff" stroke-width="2.1" fill="none"/>
<text x="786.00" y="299.50" font-family="Liberation Serif, serif" font-size="16.81" fill="#000" stroke="#000" stroke-width="0.3" textLength="173.90" lengthAdjust="spacingAndGlyphs">aerLR_raman_355_NR</text>
<path d="M741.00 318.15H773.80" stroke="#80ff80" stroke-width="2.1" fill="none"/>
<text x="786.00" y="324.25" font-family="Liberation Serif, serif" font-size="16.81" fill="#000" stroke="#000" stroke-width="0.3" textLength="173.90" lengthAdjust="spacingAndGlyphs">aerLR_raman_532_NR</text>
<rect x="985.50" y="131.50" width="306.10" height="78.70" rx="3.2" ry="3.2" fill="#fff" fill-opacity="0.8" stroke="#ccc" stroke-opacity="0.8" stroke-width="1.3"/>
<path d="M990.20 144.90H1023.00" stroke="#ffa500" stroke-width="2.1" fill="none"/>
<text x="1036.17" y="151.00" font-family="Liberation Serif, serif" font-size="16.81" fill="#000" stroke="#000" stroke-width="0.3" textLength="229.31" lengthAdjust="spacingAndGlyphs">AE_beta_355_532_Raman_FR</text>
<path d="M990.20 169.70H1023.00" stroke="#ff00ff" stroke-width="2.1" fill="none"/>
<text x="1036.17" y="175.80" font-family="Liberation Serif, serif" font-size="16.81" fill="#000" stroke="#000" stroke-width="0.3" textLength="239.04" lengthAdjust="spacingAndGlyphs">AE_beta_532_1064_Raman_FR</text>
<path d="M990.20 194.50H1023.00" stroke="#000000" stroke-width="2.1" fill="none"/>
<text x="1036.17" y="199.30" font-family="Liberation Serif, serif" font-size="16.81" fill="#000" stroke="#000" stroke-width="0.3" textLength="247.35" lengthAdjust="spacingAndGlyphs">AE_parExt_355_532_Raman_FR</text>
<rect x="1345.20" y="131.50" width="263.50" height="78.70" rx="3.2" ry="3.2" fill="#fff" fill-opacity="0.8" stroke="#ccc" stroke-opacity="0.8" stroke-width="1.3"/>
<path d="M1349.90 144.90H1382.90" stroke="#0000ff" stroke-width="2.1" fill="none"/>
<text x="1395.45" y="149.70" font-family="Liberation Serif, serif" font-size="16.81" fill="#000" stroke="#000" stroke-width="0.3" textLength="195.36" lengthAdjust="spacingAndGlyphs">parDepol_raman_355_FR</text>
<path d="M1349.90 169.70H1382.90" stroke="#008000" stroke-width="2.1" fill="none"/>
<text x="1395.45" y="174.50" font-family="Liberation Serif, serif" font-size="16.81" fill="#000" stroke="#000" stroke-width="0.3" textLength="195.36" lengthAdjust="spacingAndGlyphs">parDepol_raman_532_FR</text>
<path d="M1349.90 194.50H1382.90" stroke="#ff0000" stroke-width="2.1" fill="none"/>
<text x="1395.45" y="199.30" font-family="Liberation Serif, serif" font-size="16.81" fill="#000" stroke="#000" stroke-width="0.3" textLength="205.08" lengthAdjust="spacingAndGlyphs">parDepol_raman_1064_FR</text>
<rect x="1814.40" y="131.50" width="110.10" height="29.90" rx="3.2" ry="3.2" fill="#fff" fill-opacity="0.8" stroke="#ccc" stroke-opacity="0.8" stroke-width="1.3"/>
<path d="M1819.10 144.90H1851.90" stroke="#1a1aff" stroke-width="2.1" fill="none"/>
<text x="1864.73" y="150.00" font-family="Liberation Serif, serif" font-size="16.81" fill="#000" stroke="#000" stroke-width="0.3" textLength="53.92" lengthAdjust="spacingAndGlyphs">WVMR</text>
<rect x="1823.30" y="185.40" width="81.20" height="28.90" rx="3.2" ry="3.2" fill="#fff" fill-opacity="0.8" stroke="#ccc" stroke-opacity="0.8" stroke-width="1.3"/>
<path d="M1828.00 198.90H1861.00" stroke="#1f961f" stroke-width="2.1" fill="none"/>
<text x="1873.46" y="204.00" font-family="Liberation Serif, serif" font-size="16.81" fill="#000" stroke="#000" stroke-width="0.3" textLength="23.84" lengthAdjust="spacingAndGlyphs">RH</text>
<rect x="195.0" y="1276.0" width="200.6" height="65.4" fill="#f1f2f7"/>
<text x="200.07" y="1293.80" font-family="Liberation Serif, serif" font-size="16.81" fill="#000" stroke="#000" stroke-width="0.3" textLength="188.21" lengthAdjust="spacingAndGlyphs">ref.H_355: 2.59-4.08 km</text>
<text x="200.07" y="1313.40" font-family="Liberation Serif, serif" font-size="16.81" fill="#000" stroke="#000" stroke-width="0.3" textLength="188.21" lengthAdjust="spacingAndGlyphs">ref.H_532: 2.61-4.11 km</text>
<text x="200.07" y="1333.00" font-family="Liberation Serif, serif" font-size="16.81" fill="#000" stroke="#000" stroke-width="0.3" textLength="187.48" lengthAdjust="spacingAndGlyphs">ref.H_1064: nan-nan km</text>
<rect x="1695.2" y="1274.2" width="164.6" height="27.3" fill="#f1f2f7"/>
<text x="1700.43" y="1291.90" font-family="Liberation Serif, serif" font-size="16.81" fill="#000" stroke="#000" stroke-width="0.3" textLength="154.04" lengthAdjust="spacingAndGlyphs">WV-calib.const.: 3.8</text>
<rect x="1448.1" y="276.3" width="94.7" height="72.4" fill="#eff0f6" fill-opacity="0.8"/>
<text x="1453.38" y="295.60" font-family="Liberation Sans, sans-serif" font-size="16.04" font-style="italic" fill="#000" stroke="#000" stroke-width="0.12" textLength="9.53" lengthAdjust="spacingAndGlyphs">η</text>
<text x="1462.40" y="297.80" font-family="Liberation Sans, sans-serif" font-size="11.23" fill="#000" stroke="#000" stroke-width="0.12" textLength="20.25" lengthAdjust="spacingAndGlyphs">355</text>
<text x="1482.02" y="295.60" font-family="Liberation Serif, serif" font-size="16.81" fill="#000" stroke="#000" stroke-width="0.3" textLength="3.98" lengthAdjust="spacingAndGlyphs">:</text>
<text x="1493.00" y="295.60" font-family="Liberation Serif, serif" font-size="16.81" fill="#000" stroke="#000" stroke-width="0.3" textLength="44.85" lengthAdjust="spacingAndGlyphs">12.41</text>
<text x="1453.38" y="317.50" font-family="Liberation Sans, sans-serif" font-size="16.04" font-style="italic" fill="#000" stroke="#000" stroke-width="0.12" textLength="9.53" lengthAdjust="spacingAndGlyphs">η</text>
<text x="1462.37" y="319.70" font-family="Liberation Sans, sans-serif" font-size="11.23" fill="#000" stroke="#000" stroke-width="0.12" textLength="20.38" lengthAdjust="spacingAndGlyphs">532</text>
<text x="1482.02" y="317.50" font-family="Liberation Serif, serif" font-size="16.81" fill="#000" stroke="#000" stroke-width="0.3" textLength="3.98" lengthAdjust="spacingAndGlyphs">:</text>
<text x="1493.13" y="317.50" font-family="Liberation Serif, serif" font-size="16.81" fill="#000" stroke="#000" stroke-width="0.3" textLength="34.98" lengthAdjust="spacingAndGlyphs">7.08</text>
<text x="1453.38" y="337.80" font-family="Liberation Sans, sans-serif" font-size="16.04" font-style="italic" fill="#000" stroke="#000" stroke-width="0.12" textLength="9.53" lengthAdjust="spacingAndGlyphs">η</text>
<text x="1461.92" y="340.00" font-family="Liberation Sans, sans-serif" font-size="11.23" fill="#000" stroke="#000" stroke-width="0.12" textLength="27.48" lengthAdjust="spacingAndGlyphs">1064</text>
<text x="1489.22" y="337.80" font-family="Liberation Serif, serif" font-size="16.81" fill="#000" stroke="#000" stroke-width="0.3" textLength="3.98" lengthAdjust="spacingAndGlyphs">:</text>
<text x="1500.48" y="337.80" font-family="Liberation Serif, serif" font-size="16.81" fill="#000" stroke="#000" stroke-width="0.3" textLength="29.68" lengthAdjust="spacingAndGlyphs">nan</text>
<text x="1001.31" y="1328.40" font-family="Liberation Serif, serif" font-size="14.52" font-weight="bold" fill="#ff2222" textLength="87.21" lengthAdjust="spacingAndGlyphs">Preliminary</text>
<text x="1001.30" y="1342.80" font-family="Liberation Serif, serif" font-size="14.52" font-weight="bold" fill="#ff2222" textLength="58.92" lengthAdjust="spacingAndGlyphs">Results.</text>
<text x="1499.61" y="1331.80" font-family="Liberation Serif, serif" font-size="12.22" font-weight="bold" fill="#000" textLength="156.57" lengthAdjust="spacingAndGlyphs">© TROPOS &amp; ECoE 2026.</text>
<text x="1499.52" y="1343.80" font-family="Liberation Serif, serif" font-size="12.22" font-weight="bold" fill="#000" textLength="137.51" lengthAdjust="spacingAndGlyphs">CC BY SA 4.0 License.</text>
<g id="ccbadge">
<clipPath id="bclip"><rect x="664.00" y="1257.10" width="273.00" height="94.60" rx="3" ry="3"/></clipPath>
<g clip-path="url(#bclip)">
<rect x="664.00" y="1257.10" width="273.00" height="94.60" fill="#b9beb8"/>
<rect x="664.00" y="1323.30" width="273.00" height="28.40" fill="#333333"/>
<circle cx="711.5" cy="1300.4" r="43.2" fill="#b9beb8"/>
</g>
<rect x="665.00" y="1258.10" width="271.00" height="92.60" rx="3" ry="3" fill="none" stroke="#333333" stroke-width="2"/>
<circle cx="711.5" cy="1300.4" r="32.1" fill="#fff" stroke="#333333" stroke-width="6.4"/>
<path d="M708.79 1306.29A8.20 8.20 0 1 1 708.79 1295.31" fill="none" stroke="#333333" stroke-width="5.9"/>
<path d="M729.49 1306.29A8.20 8.20 0 1 1 729.49 1295.31" fill="none" stroke="#333333" stroke-width="5.9"/>
<circle cx="808.1" cy="1290.1" r="23.8" fill="#fff" stroke="#333333" stroke-width="4.4"/>
<circle cx="808.1" cy="1276.6" r="3.8" fill="#333333"/>
<path d="M801.1 1283.1q0-1.1 1.1-1.1h11.8q1.1 0 1.1 1.1v11h-3v12.8h-8.1v-12.8h-2.9z" fill="#333333"/>
<circle cx="872.7" cy="1290.1" r="23.8" fill="#fff" stroke="#333333" stroke-width="4.4"/>
<path d="M863.60 1287.59A10.20 10.20 0 1 1 863.82 1293.89" fill="none" stroke="#333333" stroke-width="6.2"/>
<path d="M859.0 1286.3h10.4l-5.4 5.6z" fill="#333333"/>
<text x="792.90" y="1346.1" font-family="Liberation Sans, sans-serif" font-weight="bold" font-size="20.8" fill="#fff" textLength="27.5" lengthAdjust="spacingAndGlyphs">BY</text>
<text x="856.80" y="1346.1" font-family="Liberation Sans, sans-serif" font-weight="bold" font-size="20.8" fill="#fff" textLength="27.5" lengthAdjust="spacingAndGlyphs">SA</text>
</g>
</svg></body></html>
